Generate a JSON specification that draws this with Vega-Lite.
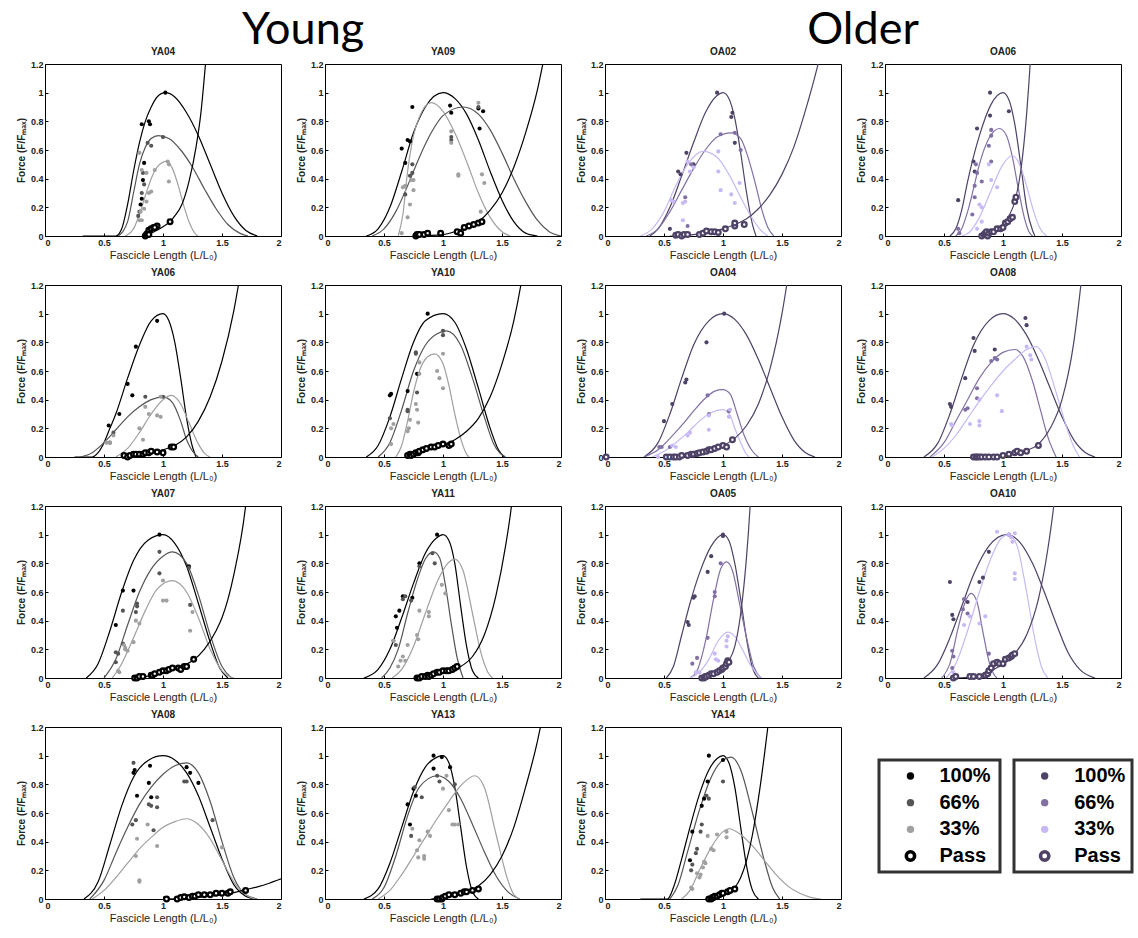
{
"$schema":"https://vega.github.io/schema/vega-lite/v6.json",
"padding":{"left":15,"top":8,"right":5,"bottom":5},
"background":"white",
"datasets":{
"c":[
{"p":"YA04","g":"Y1","x":0.32,"y":0},{"p":"YA04","g":"Y1","x":0.6,"y":0},{"p":"YA04","g":"Y1","x":0.65,"y":0.05},{"p":"YA04","g":"Y1","x":0.7,"y":0.22},{"p":"YA04","g":"Y1","x":0.75,"y":0.45},{"p":"YA04","g":"Y1","x":0.8,"y":0.65},{"p":"YA04","g":"Y1","x":0.85,"y":0.8},{"p":"YA04","g":"Y1","x":0.9,"y":0.9},{"p":"YA04","g":"Y1","x":0.95,"y":0.97},{"p":"YA04","g":"Y1","x":1.02,"y":1},{"p":"YA04","g":"Y1","x":1.1,"y":0.97},{"p":"YA04","g":"Y1","x":1.2,"y":0.86},{"p":"YA04","g":"Y1","x":1.3,"y":0.7},{"p":"YA04","g":"Y1","x":1.4,"y":0.5},{"p":"YA04","g":"Y1","x":1.5,"y":0.3},{"p":"YA04","g":"Y1","x":1.6,"y":0.14},{"p":"YA04","g":"Y1","x":1.7,"y":0.04},{"p":"YA04","g":"Y1","x":1.8,"y":0},
{"p":"YA04","g":"Y6","x":0.62,"y":0},{"p":"YA04","g":"Y6","x":0.7,"y":0.1},{"p":"YA04","g":"Y6","x":0.75,"y":0.3},{"p":"YA04","g":"Y6","x":0.8,"y":0.5},{"p":"YA04","g":"Y6","x":0.85,"y":0.62},{"p":"YA04","g":"Y6","x":0.9,"y":0.68},{"p":"YA04","g":"Y6","x":0.96,"y":0.7},{"p":"YA04","g":"Y6","x":1.05,"y":0.68},{"p":"YA04","g":"Y6","x":1.15,"y":0.6},{"p":"YA04","g":"Y6","x":1.25,"y":0.48},{"p":"YA04","g":"Y6","x":1.35,"y":0.33},{"p":"YA04","g":"Y6","x":1.45,"y":0.19},{"p":"YA04","g":"Y6","x":1.55,"y":0.08},{"p":"YA04","g":"Y6","x":1.65,"y":0.02},{"p":"YA04","g":"Y6","x":1.72,"y":0},
{"p":"YA04","g":"Y3","x":0.68,"y":0},{"p":"YA04","g":"Y3","x":0.75,"y":0.05},{"p":"YA04","g":"Y3","x":0.8,"y":0.15},{"p":"YA04","g":"Y3","x":0.85,"y":0.28},{"p":"YA04","g":"Y3","x":0.9,"y":0.4},{"p":"YA04","g":"Y3","x":0.95,"y":0.48},{"p":"YA04","g":"Y3","x":1.03,"y":0.52},{"p":"YA04","g":"Y3","x":1.08,"y":0.47},{"p":"YA04","g":"Y3","x":1.13,"y":0.35},{"p":"YA04","g":"Y3","x":1.18,"y":0.2},{"p":"YA04","g":"Y3","x":1.23,"y":0.08},{"p":"YA04","g":"Y3","x":1.28,"y":0.01},{"p":"YA04","g":"Y3","x":1.3,"y":0},
{"p":"YA04","g":"YP","x":0.85,"y":0},{"p":"YA04","g":"YP","x":0.9,"y":0.02},{"p":"YA04","g":"YP","x":0.95,"y":0.04},{"p":"YA04","g":"YP","x":1,"y":0.065},{"p":"YA04","g":"YP","x":1.06,"y":0.1},{"p":"YA04","g":"YP","x":1.1,"y":0.14},{"p":"YA04","g":"YP","x":1.16,"y":0.22},{"p":"YA04","g":"YP","x":1.22,"y":0.38},{"p":"YA04","g":"YP","x":1.28,"y":0.62},{"p":"YA04","g":"YP","x":1.32,"y":0.85},{"p":"YA04","g":"YP","x":1.36,"y":1.2},{"p":"YA04","g":"YP","x":1.38,"y":1.4},

{"p":"YA09","g":"Y1","x":0.35,"y":0},{"p":"YA09","g":"Y1","x":0.45,"y":0.05},{"p":"YA09","g":"Y1","x":0.55,"y":0.2},{"p":"YA09","g":"Y1","x":0.65,"y":0.45},{"p":"YA09","g":"Y1","x":0.75,"y":0.72},{"p":"YA09","g":"Y1","x":0.85,"y":0.9},{"p":"YA09","g":"Y1","x":1,"y":1},{"p":"YA09","g":"Y1","x":1.1,"y":0.96},{"p":"YA09","g":"Y1","x":1.2,"y":0.85},{"p":"YA09","g":"Y1","x":1.3,"y":0.67},{"p":"YA09","g":"Y1","x":1.4,"y":0.45},{"p":"YA09","g":"Y1","x":1.5,"y":0.25},{"p":"YA09","g":"Y1","x":1.6,"y":0.1},{"p":"YA09","g":"Y1","x":1.7,"y":0.02},{"p":"YA09","g":"Y1","x":1.8,"y":0},
{"p":"YA09","g":"Y6","x":0.4,"y":0},{"p":"YA09","g":"Y6","x":0.5,"y":0.05},{"p":"YA09","g":"Y6","x":0.6,"y":0.17},{"p":"YA09","g":"Y6","x":0.7,"y":0.35},{"p":"YA09","g":"Y6","x":0.8,"y":0.55},{"p":"YA09","g":"Y6","x":0.9,"y":0.72},{"p":"YA09","g":"Y6","x":1,"y":0.84},{"p":"YA09","g":"Y6","x":1.17,"y":0.9},{"p":"YA09","g":"Y6","x":1.3,"y":0.85},{"p":"YA09","g":"Y6","x":1.4,"y":0.74},{"p":"YA09","g":"Y6","x":1.5,"y":0.58},{"p":"YA09","g":"Y6","x":1.6,"y":0.4},{"p":"YA09","g":"Y6","x":1.7,"y":0.24},{"p":"YA09","g":"Y6","x":1.8,"y":0.11},{"p":"YA09","g":"Y6","x":1.9,"y":0.03},{"p":"YA09","g":"Y6","x":2,"y":0},
{"p":"YA09","g":"Y3","x":0.62,"y":0},{"p":"YA09","g":"Y3","x":0.66,"y":0.15},{"p":"YA09","g":"Y3","x":0.7,"y":0.45},{"p":"YA09","g":"Y3","x":0.75,"y":0.7},{"p":"YA09","g":"Y3","x":0.8,"y":0.83},{"p":"YA09","g":"Y3","x":0.9,"y":0.93},{"p":"YA09","g":"Y3","x":1,"y":0.87},{"p":"YA09","g":"Y3","x":1.1,"y":0.72},{"p":"YA09","g":"Y3","x":1.2,"y":0.52},{"p":"YA09","g":"Y3","x":1.3,"y":0.3},{"p":"YA09","g":"Y3","x":1.4,"y":0.13},{"p":"YA09","g":"Y3","x":1.5,"y":0.03},{"p":"YA09","g":"Y3","x":1.57,"y":0},
{"p":"YA09","g":"YP","x":0.75,"y":0},{"p":"YA09","g":"YP","x":1,"y":0.01},{"p":"YA09","g":"YP","x":1.1,"y":0.03},{"p":"YA09","g":"YP","x":1.2,"y":0.06},{"p":"YA09","g":"YP","x":1.3,"y":0.1},{"p":"YA09","g":"YP","x":1.4,"y":0.18},{"p":"YA09","g":"YP","x":1.5,"y":0.3},{"p":"YA09","g":"YP","x":1.6,"y":0.48},{"p":"YA09","g":"YP","x":1.7,"y":0.72},{"p":"YA09","g":"YP","x":1.8,"y":1.02},{"p":"YA09","g":"YP","x":1.87,"y":1.3},

{"p":"OA02","g":"O1","x":0.38,"y":0},{"p":"OA02","g":"O1","x":0.45,"y":0.05},{"p":"OA02","g":"O1","x":0.55,"y":0.2},{"p":"OA02","g":"O1","x":0.65,"y":0.42},{"p":"OA02","g":"O1","x":0.75,"y":0.65},{"p":"OA02","g":"O1","x":0.85,"y":0.86},{"p":"OA02","g":"O1","x":0.95,"y":0.98},{"p":"OA02","g":"O1","x":1,"y":1},{"p":"OA02","g":"O1","x":1.05,"y":0.96},{"p":"OA02","g":"O1","x":1.1,"y":0.82},{"p":"OA02","g":"O1","x":1.15,"y":0.58},{"p":"OA02","g":"O1","x":1.2,"y":0.3},{"p":"OA02","g":"O1","x":1.25,"y":0.08},{"p":"OA02","g":"O1","x":1.28,"y":0},
{"p":"OA02","g":"O6","x":0.35,"y":0},{"p":"OA02","g":"O6","x":0.45,"y":0.05},{"p":"OA02","g":"O6","x":0.55,"y":0.17},{"p":"OA02","g":"O6","x":0.65,"y":0.32},{"p":"OA02","g":"O6","x":0.75,"y":0.47},{"p":"OA02","g":"O6","x":0.85,"y":0.6},{"p":"OA02","g":"O6","x":0.95,"y":0.69},{"p":"OA02","g":"O6","x":1.07,"y":0.72},{"p":"OA02","g":"O6","x":1.15,"y":0.68},{"p":"OA02","g":"O6","x":1.2,"y":0.58},{"p":"OA02","g":"O6","x":1.27,"y":0.38},{"p":"OA02","g":"O6","x":1.33,"y":0.18},{"p":"OA02","g":"O6","x":1.38,"y":0.06},{"p":"OA02","g":"O6","x":1.43,"y":0},
{"p":"OA02","g":"O3","x":0.3,"y":0},{"p":"OA02","g":"O3","x":0.4,"y":0.05},{"p":"OA02","g":"O3","x":0.5,"y":0.17},{"p":"OA02","g":"O3","x":0.6,"y":0.35},{"p":"OA02","g":"O3","x":0.7,"y":0.5},{"p":"OA02","g":"O3","x":0.83,"y":0.59},{"p":"OA02","g":"O3","x":0.95,"y":0.55},{"p":"OA02","g":"O3","x":1.05,"y":0.43},{"p":"OA02","g":"O3","x":1.15,"y":0.27},{"p":"OA02","g":"O3","x":1.25,"y":0.12},{"p":"OA02","g":"O3","x":1.32,"y":0.04},{"p":"OA02","g":"O3","x":1.38,"y":0},
{"p":"OA02","g":"OP","x":0.55,"y":0},{"p":"OA02","g":"OP","x":0.7,"y":0.005},{"p":"OA02","g":"OP","x":0.8,"y":0.015},{"p":"OA02","g":"OP","x":0.9,"y":0.03},{"p":"OA02","g":"OP","x":1,"y":0.05},{"p":"OA02","g":"OP","x":1.1,"y":0.08},{"p":"OA02","g":"OP","x":1.2,"y":0.12},{"p":"OA02","g":"OP","x":1.3,"y":0.19},{"p":"OA02","g":"OP","x":1.4,"y":0.29},{"p":"OA02","g":"OP","x":1.5,"y":0.43},{"p":"OA02","g":"OP","x":1.6,"y":0.62},{"p":"OA02","g":"OP","x":1.7,"y":0.88},{"p":"OA02","g":"OP","x":1.8,"y":1.18},{"p":"OA02","g":"OP","x":1.85,"y":1.35},

{"p":"OA06","g":"O1","x":0.55,"y":0},{"p":"OA06","g":"O1","x":0.6,"y":0.05},{"p":"OA06","g":"O1","x":0.65,"y":0.18},{"p":"OA06","g":"O1","x":0.7,"y":0.38},{"p":"OA06","g":"O1","x":0.8,"y":0.7},{"p":"OA06","g":"O1","x":0.9,"y":0.92},{"p":"OA06","g":"O1","x":1,"y":1},{"p":"OA06","g":"O1","x":1.05,"y":0.95},{"p":"OA06","g":"O1","x":1.1,"y":0.78},{"p":"OA06","g":"O1","x":1.15,"y":0.5},{"p":"OA06","g":"O1","x":1.2,"y":0.2},{"p":"OA06","g":"O1","x":1.25,"y":0.04},{"p":"OA06","g":"O1","x":1.27,"y":0},
{"p":"OA06","g":"O6","x":0.6,"y":0},{"p":"OA06","g":"O6","x":0.65,"y":0.05},{"p":"OA06","g":"O6","x":0.7,"y":0.17},{"p":"OA06","g":"O6","x":0.75,"y":0.33},{"p":"OA06","g":"O6","x":0.8,"y":0.5},{"p":"OA06","g":"O6","x":0.88,"y":0.68},{"p":"OA06","g":"O6","x":0.97,"y":0.75},{"p":"OA06","g":"O6","x":1.03,"y":0.7},{"p":"OA06","g":"O6","x":1.08,"y":0.55},{"p":"OA06","g":"O6","x":1.13,"y":0.33},{"p":"OA06","g":"O6","x":1.18,"y":0.13},{"p":"OA06","g":"O6","x":1.22,"y":0.03},{"p":"OA06","g":"O6","x":1.25,"y":0},
{"p":"OA06","g":"O3","x":0.65,"y":0},{"p":"OA06","g":"O3","x":0.72,"y":0.03},{"p":"OA06","g":"O3","x":0.8,"y":0.13},{"p":"OA06","g":"O3","x":0.9,"y":0.32},{"p":"OA06","g":"O3","x":1,"y":0.5},{"p":"OA06","g":"O3","x":1.08,"y":0.56},{"p":"OA06","g":"O3","x":1.15,"y":0.48},{"p":"OA06","g":"O3","x":1.2,"y":0.35},{"p":"OA06","g":"O3","x":1.26,"y":0.17},{"p":"OA06","g":"O3","x":1.31,"y":0.06},{"p":"OA06","g":"O3","x":1.37,"y":0},
{"p":"OA06","g":"OP","x":0.8,"y":0},{"p":"OA06","g":"OP","x":0.9,"y":0.02},{"p":"OA06","g":"OP","x":0.95,"y":0.04},{"p":"OA06","g":"OP","x":1,"y":0.08},{"p":"OA06","g":"OP","x":1.05,"y":0.14},{"p":"OA06","g":"OP","x":1.1,"y":0.24},{"p":"OA06","g":"OP","x":1.15,"y":0.45},{"p":"OA06","g":"OP","x":1.2,"y":0.85},{"p":"OA06","g":"OP","x":1.23,"y":1.2},{"p":"OA06","g":"OP","x":1.25,"y":1.5},

{"p":"YA06","g":"Y1","x":0.25,"y":0},{"p":"YA06","g":"Y1","x":0.4,"y":0},{"p":"YA06","g":"Y1","x":0.45,"y":0.03},{"p":"YA06","g":"Y1","x":0.5,"y":0.1},{"p":"YA06","g":"Y1","x":0.55,"y":0.2},{"p":"YA06","g":"Y1","x":0.6,"y":0.3},{"p":"YA06","g":"Y1","x":0.7,"y":0.55},{"p":"YA06","g":"Y1","x":0.8,"y":0.78},{"p":"YA06","g":"Y1","x":0.9,"y":0.95},{"p":"YA06","g":"Y1","x":1,"y":1},{"p":"YA06","g":"Y1","x":1.05,"y":0.95},{"p":"YA06","g":"Y1","x":1.1,"y":0.8},{"p":"YA06","g":"Y1","x":1.15,"y":0.55},{"p":"YA06","g":"Y1","x":1.2,"y":0.27},{"p":"YA06","g":"Y1","x":1.25,"y":0.07},{"p":"YA06","g":"Y1","x":1.28,"y":0},
{"p":"YA06","g":"Y6","x":0.3,"y":0},{"p":"YA06","g":"Y6","x":0.4,"y":0.03},{"p":"YA06","g":"Y6","x":0.5,"y":0.1},{"p":"YA06","g":"Y6","x":0.6,"y":0.19},{"p":"YA06","g":"Y6","x":0.7,"y":0.28},{"p":"YA06","g":"Y6","x":0.8,"y":0.35},{"p":"YA06","g":"Y6","x":0.9,"y":0.4},{"p":"YA06","g":"Y6","x":1,"y":0.42},{"p":"YA06","g":"Y6","x":1.08,"y":0.38},{"p":"YA06","g":"Y6","x":1.15,"y":0.25},{"p":"YA06","g":"Y6","x":1.2,"y":0.12},{"p":"YA06","g":"Y6","x":1.25,"y":0.04},{"p":"YA06","g":"Y6","x":1.3,"y":0},
{"p":"YA06","g":"Y3","x":0.6,"y":0},{"p":"YA06","g":"Y3","x":0.7,"y":0.06},{"p":"YA06","g":"Y3","x":0.8,"y":0.17},{"p":"YA06","g":"Y3","x":0.9,"y":0.3},{"p":"YA06","g":"Y3","x":1,"y":0.4},{"p":"YA06","g":"Y3","x":1.07,"y":0.43},{"p":"YA06","g":"Y3","x":1.15,"y":0.37},{"p":"YA06","g":"Y3","x":1.22,"y":0.24},{"p":"YA06","g":"Y3","x":1.3,"y":0.09},{"p":"YA06","g":"Y3","x":1.36,"y":0.02},{"p":"YA06","g":"Y3","x":1.4,"y":0},
{"p":"YA06","g":"YP","x":0.65,"y":0},{"p":"YA06","g":"YP","x":0.8,"y":0.01},{"p":"YA06","g":"YP","x":0.9,"y":0.03},{"p":"YA06","g":"YP","x":1,"y":0.05},{"p":"YA06","g":"YP","x":1.1,"y":0.08},{"p":"YA06","g":"YP","x":1.2,"y":0.14},{"p":"YA06","g":"YP","x":1.3,"y":0.25},{"p":"YA06","g":"YP","x":1.4,"y":0.42},{"p":"YA06","g":"YP","x":1.5,"y":0.67},{"p":"YA06","g":"YP","x":1.6,"y":1.02},{"p":"YA06","g":"YP","x":1.66,"y":1.3},

{"p":"YA10","g":"Y1","x":0.35,"y":0},{"p":"YA10","g":"Y1","x":0.45,"y":0.08},{"p":"YA10","g":"Y1","x":0.55,"y":0.28},{"p":"YA10","g":"Y1","x":0.65,"y":0.55},{"p":"YA10","g":"Y1","x":0.75,"y":0.8},{"p":"YA10","g":"Y1","x":0.85,"y":0.95},{"p":"YA10","g":"Y1","x":1,"y":1},{"p":"YA10","g":"Y1","x":1.1,"y":0.94},{"p":"YA10","g":"Y1","x":1.2,"y":0.75},{"p":"YA10","g":"Y1","x":1.3,"y":0.48},{"p":"YA10","g":"Y1","x":1.4,"y":0.2},{"p":"YA10","g":"Y1","x":1.47,"y":0.05},{"p":"YA10","g":"Y1","x":1.52,"y":0},
{"p":"YA10","g":"Y6","x":0.45,"y":0},{"p":"YA10","g":"Y6","x":0.55,"y":0.1},{"p":"YA10","g":"Y6","x":0.65,"y":0.33},{"p":"YA10","g":"Y6","x":0.75,"y":0.6},{"p":"YA10","g":"Y6","x":0.85,"y":0.78},{"p":"YA10","g":"Y6","x":0.95,"y":0.86},{"p":"YA10","g":"Y6","x":1.03,"y":0.88},{"p":"YA10","g":"Y6","x":1.15,"y":0.78},{"p":"YA10","g":"Y6","x":1.25,"y":0.55},{"p":"YA10","g":"Y6","x":1.35,"y":0.28},{"p":"YA10","g":"Y6","x":1.43,"y":0.09},{"p":"YA10","g":"Y6","x":1.53,"y":0},
{"p":"YA10","g":"Y3","x":0.6,"y":0},{"p":"YA10","g":"Y3","x":0.65,"y":0.08},{"p":"YA10","g":"Y3","x":0.7,"y":0.25},{"p":"YA10","g":"Y3","x":0.75,"y":0.45},{"p":"YA10","g":"Y3","x":0.8,"y":0.6},{"p":"YA10","g":"Y3","x":0.87,"y":0.7},{"p":"YA10","g":"Y3","x":0.93,"y":0.72},{"p":"YA10","g":"Y3","x":1,"y":0.65},{"p":"YA10","g":"Y3","x":1.05,"y":0.5},{"p":"YA10","g":"Y3","x":1.1,"y":0.3},{"p":"YA10","g":"Y3","x":1.15,"y":0.13},{"p":"YA10","g":"Y3","x":1.2,"y":0.02},{"p":"YA10","g":"Y3","x":1.22,"y":0},
{"p":"YA10","g":"YP","x":0.7,"y":0},{"p":"YA10","g":"YP","x":0.8,"y":0.03},{"p":"YA10","g":"YP","x":0.9,"y":0.06},{"p":"YA10","g":"YP","x":1,"y":0.08},{"p":"YA10","g":"YP","x":1.1,"y":0.12},{"p":"YA10","g":"YP","x":1.2,"y":0.18},{"p":"YA10","g":"YP","x":1.3,"y":0.27},{"p":"YA10","g":"YP","x":1.4,"y":0.42},{"p":"YA10","g":"YP","x":1.5,"y":0.65},{"p":"YA10","g":"YP","x":1.6,"y":0.95},{"p":"YA10","g":"YP","x":1.66,"y":1.2},{"p":"YA10","g":"YP","x":1.69,"y":1.35},

{"p":"OA04","g":"O1","x":0.33,"y":0},{"p":"OA04","g":"O1","x":0.45,"y":0.1},{"p":"OA04","g":"O1","x":0.55,"y":0.3},{"p":"OA04","g":"O1","x":0.65,"y":0.55},{"p":"OA04","g":"O1","x":0.75,"y":0.78},{"p":"OA04","g":"O1","x":0.88,"y":0.95},{"p":"OA04","g":"O1","x":1,"y":1},{"p":"OA04","g":"O1","x":1.1,"y":0.96},{"p":"OA04","g":"O1","x":1.2,"y":0.85},{"p":"OA04","g":"O1","x":1.3,"y":0.68},{"p":"OA04","g":"O1","x":1.4,"y":0.48},{"p":"OA04","g":"O1","x":1.5,"y":0.28},{"p":"OA04","g":"O1","x":1.6,"y":0.12},{"p":"OA04","g":"O1","x":1.7,"y":0.03},{"p":"OA04","g":"O1","x":1.78,"y":0},
{"p":"OA04","g":"O6","x":0.33,"y":0},{"p":"OA04","g":"O6","x":0.45,"y":0.05},{"p":"OA04","g":"O6","x":0.55,"y":0.13},{"p":"OA04","g":"O6","x":0.65,"y":0.22},{"p":"OA04","g":"O6","x":0.75,"y":0.32},{"p":"OA04","g":"O6","x":0.85,"y":0.41},{"p":"OA04","g":"O6","x":0.93,"y":0.46},{"p":"OA04","g":"O6","x":1,"y":0.47},{"p":"OA04","g":"O6","x":1.06,"y":0.44},{"p":"OA04","g":"O6","x":1.12,"y":0.3},{"p":"OA04","g":"O6","x":1.18,"y":0.15},{"p":"OA04","g":"O6","x":1.25,"y":0.04},{"p":"OA04","g":"O6","x":1.3,"y":0},
{"p":"OA04","g":"O3","x":0.4,"y":0},{"p":"OA04","g":"O3","x":0.5,"y":0.04},{"p":"OA04","g":"O3","x":0.6,"y":0.1},{"p":"OA04","g":"O3","x":0.7,"y":0.17},{"p":"OA04","g":"O3","x":0.8,"y":0.25},{"p":"OA04","g":"O3","x":0.9,"y":0.31},{"p":"OA04","g":"O3","x":1,"y":0.33},{"p":"OA04","g":"O3","x":1.06,"y":0.29},{"p":"OA04","g":"O3","x":1.1,"y":0.2},{"p":"OA04","g":"O3","x":1.15,"y":0.1},{"p":"OA04","g":"O3","x":1.19,"y":0.03},{"p":"OA04","g":"O3","x":1.22,"y":0},
{"p":"OA04","g":"OP","x":0.5,"y":0},{"p":"OA04","g":"OP","x":0.6,"y":0.005},{"p":"OA04","g":"OP","x":0.7,"y":0.015},{"p":"OA04","g":"OP","x":0.8,"y":0.03},{"p":"OA04","g":"OP","x":0.9,"y":0.05},{"p":"OA04","g":"OP","x":1,"y":0.08},{"p":"OA04","g":"OP","x":1.1,"y":0.13},{"p":"OA04","g":"OP","x":1.2,"y":0.22},{"p":"OA04","g":"OP","x":1.3,"y":0.37},{"p":"OA04","g":"OP","x":1.4,"y":0.62},{"p":"OA04","g":"OP","x":1.5,"y":1},{"p":"OA04","g":"OP","x":1.55,"y":1.25},{"p":"OA04","g":"OP","x":1.57,"y":1.35},

{"p":"OA08","g":"O1","x":0.33,"y":0},{"p":"OA08","g":"O1","x":0.45,"y":0.1},{"p":"OA08","g":"O1","x":0.55,"y":0.3},{"p":"OA08","g":"O1","x":0.65,"y":0.55},{"p":"OA08","g":"O1","x":0.75,"y":0.78},{"p":"OA08","g":"O1","x":0.88,"y":0.95},{"p":"OA08","g":"O1","x":1,"y":1},{"p":"OA08","g":"O1","x":1.1,"y":0.96},{"p":"OA08","g":"O1","x":1.2,"y":0.85},{"p":"OA08","g":"O1","x":1.3,"y":0.68},{"p":"OA08","g":"O1","x":1.4,"y":0.48},{"p":"OA08","g":"O1","x":1.5,"y":0.28},{"p":"OA08","g":"O1","x":1.6,"y":0.12},{"p":"OA08","g":"O1","x":1.7,"y":0.03},{"p":"OA08","g":"O1","x":1.78,"y":0},
{"p":"OA08","g":"O6","x":0.38,"y":0},{"p":"OA08","g":"O6","x":0.5,"y":0.1},{"p":"OA08","g":"O6","x":0.6,"y":0.25},{"p":"OA08","g":"O6","x":0.7,"y":0.4},{"p":"OA08","g":"O6","x":0.8,"y":0.55},{"p":"OA08","g":"O6","x":0.9,"y":0.66},{"p":"OA08","g":"O6","x":1,"y":0.73},{"p":"OA08","g":"O6","x":1.1,"y":0.75},{"p":"OA08","g":"O6","x":1.17,"y":0.7},{"p":"OA08","g":"O6","x":1.25,"y":0.53},{"p":"OA08","g":"O6","x":1.32,"y":0.32},{"p":"OA08","g":"O6","x":1.38,"y":0.14},{"p":"OA08","g":"O6","x":1.45,"y":0},
{"p":"OA08","g":"O3","x":0.4,"y":0},{"p":"OA08","g":"O3","x":0.5,"y":0.06},{"p":"OA08","g":"O3","x":0.6,"y":0.15},{"p":"OA08","g":"O3","x":0.7,"y":0.27},{"p":"OA08","g":"O3","x":0.8,"y":0.39},{"p":"OA08","g":"O3","x":0.9,"y":0.5},{"p":"OA08","g":"O3","x":1,"y":0.6},{"p":"OA08","g":"O3","x":1.1,"y":0.68},{"p":"OA08","g":"O3","x":1.2,"y":0.75},{"p":"OA08","g":"O3","x":1.28,"y":0.77},{"p":"OA08","g":"O3","x":1.35,"y":0.7},{"p":"OA08","g":"O3","x":1.45,"y":0.45},{"p":"OA08","g":"O3","x":1.55,"y":0.18},{"p":"OA08","g":"O3","x":1.6,"y":0.07},{"p":"OA08","g":"O3","x":1.65,"y":0},
{"p":"OA08","g":"OP","x":0.75,"y":0},{"p":"OA08","g":"OP","x":0.9,"y":0.005},{"p":"OA08","g":"OP","x":1,"y":0.01},{"p":"OA08","g":"OP","x":1.1,"y":0.025},{"p":"OA08","g":"OP","x":1.2,"y":0.045},{"p":"OA08","g":"OP","x":1.3,"y":0.09},{"p":"OA08","g":"OP","x":1.4,"y":0.2},{"p":"OA08","g":"OP","x":1.5,"y":0.4},{"p":"OA08","g":"OP","x":1.6,"y":0.8},{"p":"OA08","g":"OP","x":1.66,"y":1.2},{"p":"OA08","g":"OP","x":1.68,"y":1.35},

{"p":"YA07","g":"Y1","x":0.35,"y":0},{"p":"YA07","g":"Y1","x":0.45,"y":0.1},{"p":"YA07","g":"Y1","x":0.55,"y":0.33},{"p":"YA07","g":"Y1","x":0.65,"y":0.6},{"p":"YA07","g":"Y1","x":0.75,"y":0.82},{"p":"YA07","g":"Y1","x":0.87,"y":0.96},{"p":"YA07","g":"Y1","x":1,"y":1},{"p":"YA07","g":"Y1","x":1.1,"y":0.94},{"p":"YA07","g":"Y1","x":1.2,"y":0.78},{"p":"YA07","g":"Y1","x":1.3,"y":0.52},{"p":"YA07","g":"Y1","x":1.4,"y":0.25},{"p":"YA07","g":"Y1","x":1.48,"y":0.07},{"p":"YA07","g":"Y1","x":1.55,"y":0},
{"p":"YA07","g":"Y6","x":0.5,"y":0},{"p":"YA07","g":"Y6","x":0.6,"y":0.13},{"p":"YA07","g":"Y6","x":0.7,"y":0.37},{"p":"YA07","g":"Y6","x":0.8,"y":0.6},{"p":"YA07","g":"Y6","x":0.9,"y":0.76},{"p":"YA07","g":"Y6","x":1,"y":0.85},{"p":"YA07","g":"Y6","x":1.08,"y":0.88},{"p":"YA07","g":"Y6","x":1.2,"y":0.8},{"p":"YA07","g":"Y6","x":1.3,"y":0.58},{"p":"YA07","g":"Y6","x":1.4,"y":0.3},{"p":"YA07","g":"Y6","x":1.5,"y":0.08},{"p":"YA07","g":"Y6","x":1.58,"y":0},
{"p":"YA07","g":"Y3","x":0.57,"y":0},{"p":"YA07","g":"Y3","x":0.65,"y":0.1},{"p":"YA07","g":"Y3","x":0.75,"y":0.28},{"p":"YA07","g":"Y3","x":0.85,"y":0.47},{"p":"YA07","g":"Y3","x":0.95,"y":0.62},{"p":"YA07","g":"Y3","x":1.08,"y":0.68},{"p":"YA07","g":"Y3","x":1.2,"y":0.6},{"p":"YA07","g":"Y3","x":1.3,"y":0.42},{"p":"YA07","g":"Y3","x":1.4,"y":0.2},{"p":"YA07","g":"Y3","x":1.5,"y":0.05},{"p":"YA07","g":"Y3","x":1.6,"y":0},
{"p":"YA07","g":"YP","x":0.75,"y":0},{"p":"YA07","g":"YP","x":0.85,"y":0.01},{"p":"YA07","g":"YP","x":0.95,"y":0.03},{"p":"YA07","g":"YP","x":1.05,"y":0.05},{"p":"YA07","g":"YP","x":1.15,"y":0.08},{"p":"YA07","g":"YP","x":1.25,"y":0.12},{"p":"YA07","g":"YP","x":1.35,"y":0.2},{"p":"YA07","g":"YP","x":1.45,"y":0.33},{"p":"YA07","g":"YP","x":1.5,"y":0.42},{"p":"YA07","g":"YP","x":1.6,"y":0.72},{"p":"YA07","g":"YP","x":1.7,"y":1.2},{"p":"YA07","g":"YP","x":1.72,"y":1.35},

{"p":"YA11","g":"Y1","x":0.33,"y":0},{"p":"YA11","g":"Y1","x":0.45,"y":0.06},{"p":"YA11","g":"Y1","x":0.55,"y":0.2},{"p":"YA11","g":"Y1","x":0.65,"y":0.42},{"p":"YA11","g":"Y1","x":0.75,"y":0.66},{"p":"YA11","g":"Y1","x":0.85,"y":0.87},{"p":"YA11","g":"Y1","x":0.95,"y":0.98},{"p":"YA11","g":"Y1","x":1,"y":1},{"p":"YA11","g":"Y1","x":1.05,"y":0.96},{"p":"YA11","g":"Y1","x":1.1,"y":0.8},{"p":"YA11","g":"Y1","x":1.15,"y":0.5},{"p":"YA11","g":"Y1","x":1.2,"y":0.22},{"p":"YA11","g":"Y1","x":1.25,"y":0.05},{"p":"YA11","g":"Y1","x":1.3,"y":0},
{"p":"YA11","g":"Y6","x":0.48,"y":0},{"p":"YA11","g":"Y6","x":0.55,"y":0.07},{"p":"YA11","g":"Y6","x":0.62,"y":0.2},{"p":"YA11","g":"Y6","x":0.7,"y":0.45},{"p":"YA11","g":"Y6","x":0.78,"y":0.68},{"p":"YA11","g":"Y6","x":0.85,"y":0.83},{"p":"YA11","g":"Y6","x":0.92,"y":0.88},{"p":"YA11","g":"Y6","x":0.97,"y":0.84},{"p":"YA11","g":"Y6","x":1.02,"y":0.65},{"p":"YA11","g":"Y6","x":1.07,"y":0.38},{"p":"YA11","g":"Y6","x":1.12,"y":0.14},{"p":"YA11","g":"Y6","x":1.17,"y":0},
{"p":"YA11","g":"Y3","x":0.57,"y":0},{"p":"YA11","g":"Y3","x":0.65,"y":0.06},{"p":"YA11","g":"Y3","x":0.75,"y":0.22},{"p":"YA11","g":"Y3","x":0.85,"y":0.45},{"p":"YA11","g":"Y3","x":0.95,"y":0.67},{"p":"YA11","g":"Y3","x":1.03,"y":0.79},{"p":"YA11","g":"Y3","x":1.1,"y":0.83},{"p":"YA11","g":"Y3","x":1.17,"y":0.75},{"p":"YA11","g":"Y3","x":1.25,"y":0.45},{"p":"YA11","g":"Y3","x":1.32,"y":0.18},{"p":"YA11","g":"Y3","x":1.38,"y":0.04},{"p":"YA11","g":"Y3","x":1.42,"y":0},
{"p":"YA11","g":"YP","x":0.75,"y":0},{"p":"YA11","g":"YP","x":0.85,"y":0.01},{"p":"YA11","g":"YP","x":0.95,"y":0.03},{"p":"YA11","g":"YP","x":1.05,"y":0.05},{"p":"YA11","g":"YP","x":1.15,"y":0.08},{"p":"YA11","g":"YP","x":1.25,"y":0.15},{"p":"YA11","g":"YP","x":1.35,"y":0.3},{"p":"YA11","g":"YP","x":1.45,"y":0.58},{"p":"YA11","g":"YP","x":1.53,"y":0.92},{"p":"YA11","g":"YP","x":1.58,"y":1.2},{"p":"YA11","g":"YP","x":1.6,"y":1.35},

{"p":"OA05","g":"O1","x":0.52,"y":0},{"p":"OA05","g":"O1","x":0.58,"y":0.08},{"p":"OA05","g":"O1","x":0.65,"y":0.3},{"p":"OA05","g":"O1","x":0.72,"y":0.52},{"p":"OA05","g":"O1","x":0.8,"y":0.73},{"p":"OA05","g":"O1","x":0.9,"y":0.92},{"p":"OA05","g":"O1","x":1,"y":1},{"p":"OA05","g":"O1","x":1.05,"y":0.96},{"p":"OA05","g":"O1","x":1.1,"y":0.8},{"p":"OA05","g":"O1","x":1.15,"y":0.55},{"p":"OA05","g":"O1","x":1.2,"y":0.27},{"p":"OA05","g":"O1","x":1.25,"y":0.07},{"p":"OA05","g":"O1","x":1.3,"y":0},
{"p":"OA05","g":"O6","x":0.72,"y":0},{"p":"OA05","g":"O6","x":0.78,"y":0.05},{"p":"OA05","g":"O6","x":0.85,"y":0.25},{"p":"OA05","g":"O6","x":0.92,"y":0.55},{"p":"OA05","g":"O6","x":0.98,"y":0.76},{"p":"OA05","g":"O6","x":1.03,"y":0.81},{"p":"OA05","g":"O6","x":1.08,"y":0.75},{"p":"OA05","g":"O6","x":1.14,"y":0.52},{"p":"OA05","g":"O6","x":1.2,"y":0.28},{"p":"OA05","g":"O6","x":1.26,"y":0.08},{"p":"OA05","g":"O6","x":1.32,"y":0},
{"p":"OA05","g":"O3","x":0.72,"y":0},{"p":"OA05","g":"O3","x":0.8,"y":0.04},{"p":"OA05","g":"O3","x":0.88,"y":0.13},{"p":"OA05","g":"O3","x":0.96,"y":0.26},{"p":"OA05","g":"O3","x":1.04,"y":0.32},{"p":"OA05","g":"O3","x":1.1,"y":0.29},{"p":"OA05","g":"O3","x":1.17,"y":0.19},{"p":"OA05","g":"O3","x":1.24,"y":0.08},{"p":"OA05","g":"O3","x":1.3,"y":0.02},{"p":"OA05","g":"O3","x":1.33,"y":0},
{"p":"OA05","g":"OP","x":0.8,"y":0},{"p":"OA05","g":"OP","x":0.9,"y":0.03},{"p":"OA05","g":"OP","x":1,"y":0.07},{"p":"OA05","g":"OP","x":1.05,"y":0.12},{"p":"OA05","g":"OP","x":1.1,"y":0.22},{"p":"OA05","g":"OP","x":1.15,"y":0.45},{"p":"OA05","g":"OP","x":1.2,"y":0.85},{"p":"OA05","g":"OP","x":1.23,"y":1.2},{"p":"OA05","g":"OP","x":1.25,"y":1.5},

{"p":"OA10","g":"O1","x":0.33,"y":0},{"p":"OA10","g":"O1","x":0.45,"y":0.1},{"p":"OA10","g":"O1","x":0.55,"y":0.28},{"p":"OA10","g":"O1","x":0.65,"y":0.5},{"p":"OA10","g":"O1","x":0.75,"y":0.72},{"p":"OA10","g":"O1","x":0.88,"y":0.92},{"p":"OA10","g":"O1","x":1.03,"y":1},{"p":"OA10","g":"O1","x":1.15,"y":0.94},{"p":"OA10","g":"O1","x":1.25,"y":0.8},{"p":"OA10","g":"O1","x":1.35,"y":0.6},{"p":"OA10","g":"O1","x":1.45,"y":0.38},{"p":"OA10","g":"O1","x":1.55,"y":0.18},{"p":"OA10","g":"O1","x":1.65,"y":0.06},{"p":"OA10","g":"O1","x":1.78,"y":0},
{"p":"OA10","g":"O6","x":0.48,"y":0},{"p":"OA10","g":"O6","x":0.55,"y":0.1},{"p":"OA10","g":"O6","x":0.62,"y":0.35},{"p":"OA10","g":"O6","x":0.68,"y":0.53},{"p":"OA10","g":"O6","x":0.73,"y":0.59},{"p":"OA10","g":"O6","x":0.78,"y":0.53},{"p":"OA10","g":"O6","x":0.83,"y":0.32},{"p":"OA10","g":"O6","x":0.88,"y":0.12},{"p":"OA10","g":"O6","x":0.92,"y":0.03},{"p":"OA10","g":"O6","x":0.95,"y":0},
{"p":"OA10","g":"O3","x":0.52,"y":0},{"p":"OA10","g":"O3","x":0.6,"y":0.1},{"p":"OA10","g":"O3","x":0.7,"y":0.33},{"p":"OA10","g":"O3","x":0.8,"y":0.6},{"p":"OA10","g":"O3","x":0.9,"y":0.84},{"p":"OA10","g":"O3","x":0.98,"y":0.97},{"p":"OA10","g":"O3","x":1.05,"y":1},{"p":"OA10","g":"O3","x":1.12,"y":0.92},{"p":"OA10","g":"O3","x":1.2,"y":0.6},{"p":"OA10","g":"O3","x":1.27,"y":0.27},{"p":"OA10","g":"O3","x":1.33,"y":0.07},{"p":"OA10","g":"O3","x":1.38,"y":0},
{"p":"OA10","g":"OP","x":0.55,"y":0},{"p":"OA10","g":"OP","x":0.7,"y":0.005},{"p":"OA10","g":"OP","x":0.8,"y":0.02},{"p":"OA10","g":"OP","x":0.9,"y":0.05},{"p":"OA10","g":"OP","x":1,"y":0.1},{"p":"OA10","g":"OP","x":1.1,"y":0.17},{"p":"OA10","g":"OP","x":1.2,"y":0.3},{"p":"OA10","g":"OP","x":1.3,"y":0.55},{"p":"OA10","g":"OP","x":1.38,"y":0.9},{"p":"OA10","g":"OP","x":1.43,"y":1.2},{"p":"OA10","g":"OP","x":1.45,"y":1.35},

{"p":"YA08","g":"Y1","x":0.33,"y":0},{"p":"YA08","g":"Y1","x":0.45,"y":0.12},{"p":"YA08","g":"Y1","x":0.55,"y":0.38},{"p":"YA08","g":"Y1","x":0.65,"y":0.65},{"p":"YA08","g":"Y1","x":0.75,"y":0.85},{"p":"YA08","g":"Y1","x":0.88,"y":0.97},{"p":"YA08","g":"Y1","x":1,"y":1},{"p":"YA08","g":"Y1","x":1.1,"y":0.97},{"p":"YA08","g":"Y1","x":1.2,"y":0.88},{"p":"YA08","g":"Y1","x":1.3,"y":0.72},{"p":"YA08","g":"Y1","x":1.4,"y":0.5},{"p":"YA08","g":"Y1","x":1.5,"y":0.28},{"p":"YA08","g":"Y1","x":1.6,"y":0.1},{"p":"YA08","g":"Y1","x":1.7,"y":0.02},{"p":"YA08","g":"Y1","x":1.78,"y":0},
{"p":"YA08","g":"Y6","x":0.38,"y":0},{"p":"YA08","g":"Y6","x":0.5,"y":0.13},{"p":"YA08","g":"Y6","x":0.6,"y":0.32},{"p":"YA08","g":"Y6","x":0.7,"y":0.5},{"p":"YA08","g":"Y6","x":0.8,"y":0.66},{"p":"YA08","g":"Y6","x":0.9,"y":0.78},{"p":"YA08","g":"Y6","x":1,"y":0.87},{"p":"YA08","g":"Y6","x":1.1,"y":0.93},{"p":"YA08","g":"Y6","x":1.2,"y":0.95},{"p":"YA08","g":"Y6","x":1.3,"y":0.88},{"p":"YA08","g":"Y6","x":1.4,"y":0.68},{"p":"YA08","g":"Y6","x":1.5,"y":0.4},{"p":"YA08","g":"Y6","x":1.6,"y":0.15},{"p":"YA08","g":"Y6","x":1.7,"y":0.03},{"p":"YA08","g":"Y6","x":1.8,"y":0},
{"p":"YA08","g":"Y3","x":0.4,"y":0},{"p":"YA08","g":"Y3","x":0.5,"y":0.06},{"p":"YA08","g":"Y3","x":0.6,"y":0.15},{"p":"YA08","g":"Y3","x":0.7,"y":0.25},{"p":"YA08","g":"Y3","x":0.8,"y":0.35},{"p":"YA08","g":"Y3","x":0.9,"y":0.43},{"p":"YA08","g":"Y3","x":1,"y":0.5},{"p":"YA08","g":"Y3","x":1.1,"y":0.54},{"p":"YA08","g":"Y3","x":1.2,"y":0.56},{"p":"YA08","g":"Y3","x":1.3,"y":0.52},{"p":"YA08","g":"Y3","x":1.4,"y":0.42},{"p":"YA08","g":"Y3","x":1.5,"y":0.27},{"p":"YA08","g":"Y3","x":1.6,"y":0.12},{"p":"YA08","g":"Y3","x":1.7,"y":0.03},{"p":"YA08","g":"Y3","x":1.78,"y":0},
{"p":"YA08","g":"YP","x":1,"y":0},{"p":"YA08","g":"YP","x":1.2,"y":0.005},{"p":"YA08","g":"YP","x":1.4,"y":0.02},{"p":"YA08","g":"YP","x":1.6,"y":0.045},{"p":"YA08","g":"YP","x":1.7,"y":0.065},{"p":"YA08","g":"YP","x":1.8,"y":0.085},{"p":"YA08","g":"YP","x":1.9,"y":0.11},{"p":"YA08","g":"YP","x":2,"y":0.14},

{"p":"YA13","g":"Y1","x":0.33,"y":0},{"p":"YA13","g":"Y1","x":0.45,"y":0.07},{"p":"YA13","g":"Y1","x":0.55,"y":0.25},{"p":"YA13","g":"Y1","x":0.65,"y":0.5},{"p":"YA13","g":"Y1","x":0.75,"y":0.75},{"p":"YA13","g":"Y1","x":0.85,"y":0.92},{"p":"YA13","g":"Y1","x":0.95,"y":0.99},{"p":"YA13","g":"Y1","x":1,"y":1},{"p":"YA13","g":"Y1","x":1.05,"y":0.95},{"p":"YA13","g":"Y1","x":1.1,"y":0.78},{"p":"YA13","g":"Y1","x":1.15,"y":0.5},{"p":"YA13","g":"Y1","x":1.2,"y":0.22},{"p":"YA13","g":"Y1","x":1.25,"y":0.05},{"p":"YA13","g":"Y1","x":1.3,"y":0},
{"p":"YA13","g":"Y6","x":0.4,"y":0},{"p":"YA13","g":"Y6","x":0.5,"y":0.08},{"p":"YA13","g":"Y6","x":0.6,"y":0.3},{"p":"YA13","g":"Y6","x":0.7,"y":0.58},{"p":"YA13","g":"Y6","x":0.8,"y":0.78},{"p":"YA13","g":"Y6","x":0.95,"y":0.86},{"p":"YA13","g":"Y6","x":1.05,"y":0.82},{"p":"YA13","g":"Y6","x":1.15,"y":0.7},{"p":"YA13","g":"Y6","x":1.25,"y":0.52},{"p":"YA13","g":"Y6","x":1.35,"y":0.33},{"p":"YA13","g":"Y6","x":1.45,"y":0.16},{"p":"YA13","g":"Y6","x":1.55,"y":0.05},{"p":"YA13","g":"Y6","x":1.65,"y":0},
{"p":"YA13","g":"Y3","x":0.45,"y":0},{"p":"YA13","g":"Y3","x":0.55,"y":0.06},{"p":"YA13","g":"Y3","x":0.65,"y":0.17},{"p":"YA13","g":"Y3","x":0.75,"y":0.3},{"p":"YA13","g":"Y3","x":0.85,"y":0.43},{"p":"YA13","g":"Y3","x":0.95,"y":0.56},{"p":"YA13","g":"Y3","x":1.05,"y":0.68},{"p":"YA13","g":"Y3","x":1.15,"y":0.79},{"p":"YA13","g":"Y3","x":1.27,"y":0.86},{"p":"YA13","g":"Y3","x":1.35,"y":0.78},{"p":"YA13","g":"Y3","x":1.45,"y":0.45},{"p":"YA13","g":"Y3","x":1.55,"y":0.13},{"p":"YA13","g":"Y3","x":1.6,"y":0.03},{"p":"YA13","g":"Y3","x":1.65,"y":0},
{"p":"YA13","g":"YP","x":0.9,"y":0},{"p":"YA13","g":"YP","x":1,"y":0.01},{"p":"YA13","g":"YP","x":1.1,"y":0.025},{"p":"YA13","g":"YP","x":1.2,"y":0.05},{"p":"YA13","g":"YP","x":1.3,"y":0.09},{"p":"YA13","g":"YP","x":1.4,"y":0.17},{"p":"YA13","g":"YP","x":1.5,"y":0.3},{"p":"YA13","g":"YP","x":1.6,"y":0.5},{"p":"YA13","g":"YP","x":1.7,"y":0.78},{"p":"YA13","g":"YP","x":1.8,"y":1.1},{"p":"YA13","g":"YP","x":1.85,"y":1.3},

{"p":"YA14","g":"Y1","x":0.3,"y":0},{"p":"YA14","g":"Y1","x":0.53,"y":0},{"p":"YA14","g":"Y1","x":0.58,"y":0.08},{"p":"YA14","g":"Y1","x":0.65,"y":0.28},{"p":"YA14","g":"Y1","x":0.72,"y":0.5},{"p":"YA14","g":"Y1","x":0.8,"y":0.73},{"p":"YA14","g":"Y1","x":0.88,"y":0.9},{"p":"YA14","g":"Y1","x":0.95,"y":0.98},{"p":"YA14","g":"Y1","x":1,"y":1},{"p":"YA14","g":"Y1","x":1.05,"y":0.95},{"p":"YA14","g":"Y1","x":1.1,"y":0.78},{"p":"YA14","g":"Y1","x":1.15,"y":0.5},{"p":"YA14","g":"Y1","x":1.2,"y":0.23},{"p":"YA14","g":"Y1","x":1.25,"y":0.06},{"p":"YA14","g":"Y1","x":1.3,"y":0},
{"p":"YA14","g":"Y6","x":0.55,"y":0},{"p":"YA14","g":"Y6","x":0.62,"y":0.1},{"p":"YA14","g":"Y6","x":0.7,"y":0.33},{"p":"YA14","g":"Y6","x":0.8,"y":0.62},{"p":"YA14","g":"Y6","x":0.9,"y":0.85},{"p":"YA14","g":"Y6","x":1,"y":0.97},{"p":"YA14","g":"Y6","x":1.07,"y":0.99},{"p":"YA14","g":"Y6","x":1.15,"y":0.9},{"p":"YA14","g":"Y6","x":1.25,"y":0.6},{"p":"YA14","g":"Y6","x":1.35,"y":0.27},{"p":"YA14","g":"Y6","x":1.42,"y":0.08},{"p":"YA14","g":"Y6","x":1.48,"y":0},
{"p":"YA14","g":"Y3","x":0.65,"y":0},{"p":"YA14","g":"Y3","x":0.72,"y":0.06},{"p":"YA14","g":"Y3","x":0.8,"y":0.2},{"p":"YA14","g":"Y3","x":0.9,"y":0.36},{"p":"YA14","g":"Y3","x":1,"y":0.47},{"p":"YA14","g":"Y3","x":1.05,"y":0.49},{"p":"YA14","g":"Y3","x":1.15,"y":0.45},{"p":"YA14","g":"Y3","x":1.25,"y":0.37},{"p":"YA14","g":"Y3","x":1.35,"y":0.27},{"p":"YA14","g":"Y3","x":1.45,"y":0.17},{"p":"YA14","g":"Y3","x":1.55,"y":0.09},{"p":"YA14","g":"Y3","x":1.65,"y":0.04},{"p":"YA14","g":"Y3","x":1.75,"y":0.01},{"p":"YA14","g":"Y3","x":1.83,"y":0},
{"p":"YA14","g":"YP","x":0.85,"y":0},{"p":"YA14","g":"YP","x":0.9,"y":0.01},{"p":"YA14","g":"YP","x":0.95,"y":0.02},{"p":"YA14","g":"YP","x":1,"y":0.035},{"p":"YA14","g":"YP","x":1.05,"y":0.05},{"p":"YA14","g":"YP","x":1.1,"y":0.08},{"p":"YA14","g":"YP","x":1.15,"y":0.15},{"p":"YA14","g":"YP","x":1.2,"y":0.27},{"p":"YA14","g":"YP","x":1.25,"y":0.45},{"p":"YA14","g":"YP","x":1.3,"y":0.7},{"p":"YA14","g":"YP","x":1.35,"y":1},{"p":"YA14","g":"YP","x":1.38,"y":1.2},{"p":"YA14","g":"YP","x":1.4,"y":1.35}
],
"s":[
{"p":"YA04","g":"Y1","x":0.82,"y":0.78},{"p":"YA04","g":"Y1","x":0.88,"y":0.8},{"p":"YA04","g":"Y1","x":0.89,"y":0.78},{"p":"YA04","g":"Y1","x":0.84,"y":0.51},{"p":"YA04","g":"Y1","x":0.83,"y":0.39},{"p":"YA04","g":"Y1","x":0.82,"y":0.26},{"p":"YA04","g":"Y1","x":0.81,"y":0.22},{"p":"YA04","g":"Y1","x":1.02,"y":1},
{"p":"YA04","g":"Y6","x":0.87,"y":0.65},{"p":"YA04","g":"Y6","x":0.9,"y":0.63},{"p":"YA04","g":"Y6","x":1,"y":0.69},{"p":"YA04","g":"Y6","x":0.83,"y":0.44},{"p":"YA04","g":"Y6","x":0.82,"y":0.3},{"p":"YA04","g":"Y6","x":0.8,"y":0.17},{"p":"YA04","g":"Y6","x":0.79,"y":0.14},{"p":"YA04","g":"Y6","x":0.84,"y":0.36},
{"p":"YA04","g":"Y3","x":0.8,"y":0.58},{"p":"YA04","g":"Y3","x":0.82,"y":0.46},{"p":"YA04","g":"Y3","x":0.86,"y":0.44},{"p":"YA04","g":"Y3","x":0.9,"y":0.31},{"p":"YA04","g":"Y3","x":0.88,"y":0.3},{"p":"YA04","g":"Y3","x":0.93,"y":0.46},{"p":"YA04","g":"Y3","x":1.05,"y":0.5},{"p":"YA04","g":"Y3","x":1.04,"y":0.52},{"p":"YA04","g":"Y3","x":1.05,"y":0.38},{"p":"YA04","g":"Y3","x":0.8,"y":0.11},{"p":"YA04","g":"Y3","x":0.82,"y":0.11},{"p":"YA04","g":"Y3","x":0.84,"y":0.19},{"p":"YA04","g":"Y3","x":0.81,"y":0.17},{"p":"YA04","g":"Y3","x":0.86,"y":0.24},

{"p":"YA09","g":"Y1","x":0.65,"y":0.61},{"p":"YA09","g":"Y1","x":0.68,"y":0.51},{"p":"YA09","g":"Y1","x":0.7,"y":0.67},{"p":"YA09","g":"Y1","x":0.72,"y":0.66},{"p":"YA09","g":"Y1","x":0.74,"y":0.9},{"p":"YA09","g":"Y1","x":1.06,"y":0.91},{"p":"YA09","g":"Y1","x":1.07,"y":0.86},{"p":"YA09","g":"Y1","x":1.3,"y":0.89},{"p":"YA09","g":"Y1","x":1.31,"y":0.75},{"p":"YA09","g":"Y1","x":1.34,"y":0.87},
{"p":"YA09","g":"Y6","x":0.68,"y":0.29},{"p":"YA09","g":"Y6","x":0.72,"y":0.42},{"p":"YA09","g":"Y6","x":0.74,"y":0.44},{"p":"YA09","g":"Y6","x":0.74,"y":0.5},{"p":"YA09","g":"Y6","x":1.07,"y":0.67},{"p":"YA09","g":"Y6","x":1.07,"y":0.69},{"p":"YA09","g":"Y6","x":1.3,"y":0.9},
{"p":"YA09","g":"Y3","x":0.65,"y":0.02},{"p":"YA09","g":"Y3","x":0.68,"y":0.35},{"p":"YA09","g":"Y3","x":0.66,"y":0.34},{"p":"YA09","g":"Y3","x":0.7,"y":0.13},{"p":"YA09","g":"Y3","x":0.72,"y":0.22},{"p":"YA09","g":"Y3","x":0.73,"y":0.39},{"p":"YA09","g":"Y3","x":0.75,"y":0.39},{"p":"YA09","g":"Y3","x":0.75,"y":0.32},{"p":"YA09","g":"Y3","x":1.07,"y":0.65},{"p":"YA09","g":"Y3","x":1.07,"y":0.73},{"p":"YA09","g":"Y3","x":1.13,"y":0.43},{"p":"YA09","g":"Y3","x":1.13,"y":0.42},{"p":"YA09","g":"Y3","x":1.3,"y":0.93},{"p":"YA09","g":"Y3","x":1.32,"y":0.17},{"p":"YA09","g":"Y3","x":1.33,"y":0.43},{"p":"YA09","g":"Y3","x":1.35,"y":0.37},

{"p":"OA02","g":"O1","x":0.55,"y":0.05},{"p":"OA02","g":"O1","x":0.62,"y":0.45},{"p":"OA02","g":"O1","x":0.64,"y":0.43},{"p":"OA02","g":"O1","x":0.69,"y":0.58},{"p":"OA02","g":"O1","x":0.75,"y":0.5},{"p":"OA02","g":"O1","x":0.95,"y":1},{"p":"OA02","g":"O1","x":1.07,"y":0.83},{"p":"OA02","g":"O1","x":1.08,"y":0.86},{"p":"OA02","g":"O1","x":1.1,"y":0.65},
{"p":"OA02","g":"O6","x":0.68,"y":0.27},{"p":"OA02","g":"O6","x":0.7,"y":0.07},{"p":"OA02","g":"O6","x":0.98,"y":0.71},{"p":"OA02","g":"O6","x":1.1,"y":0.72},{"p":"OA02","g":"O6","x":1.15,"y":0.6},{"p":"OA02","g":"O6","x":0.73,"y":0.5},
{"p":"OA02","g":"O3","x":0.56,"y":0.25},{"p":"OA02","g":"O3","x":0.58,"y":0.24},{"p":"OA02","g":"O3","x":0.66,"y":0.23},{"p":"OA02","g":"O3","x":0.68,"y":0.24},{"p":"OA02","g":"O3","x":0.66,"y":0.11},{"p":"OA02","g":"O3","x":0.72,"y":0.45},{"p":"OA02","g":"O3","x":0.75,"y":0.48},{"p":"OA02","g":"O3","x":0.7,"y":0.52},{"p":"OA02","g":"O3","x":0.96,"y":0.59},{"p":"OA02","g":"O3","x":0.96,"y":0.45},{"p":"OA02","g":"O3","x":0.98,"y":0.32},{"p":"OA02","g":"O3","x":1.07,"y":0.29},{"p":"OA02","g":"O3","x":1.1,"y":0.23},{"p":"OA02","g":"O3","x":1.14,"y":0.37},

{"p":"OA06","g":"O1","x":0.62,"y":0.25},{"p":"OA06","g":"O1","x":0.75,"y":0.52},{"p":"OA06","g":"O1","x":0.78,"y":0.75},{"p":"OA06","g":"O1","x":0.89,"y":1},{"p":"OA06","g":"O1","x":0.89,"y":0.84},{"p":"OA06","g":"O1","x":1.05,"y":0.87},{"p":"OA06","g":"O1","x":0.76,"y":0.45},
{"p":"OA06","g":"O6","x":0.62,"y":0.05},{"p":"OA06","g":"O6","x":0.63,"y":0.02},{"p":"OA06","g":"O6","x":0.74,"y":0.15},{"p":"OA06","g":"O6","x":0.76,"y":0.27},{"p":"OA06","g":"O6","x":0.76,"y":0.35},{"p":"OA06","g":"O6","x":0.77,"y":0.5},{"p":"OA06","g":"O6","x":0.78,"y":0.44},{"p":"OA06","g":"O6","x":0.82,"y":0.38},{"p":"OA06","g":"O6","x":0.88,"y":0.63},{"p":"OA06","g":"O6","x":0.9,"y":0.7},{"p":"OA06","g":"O6","x":0.9,"y":0.74},{"p":"OA06","g":"O6","x":0.9,"y":0.52},
{"p":"OA06","g":"O3","x":0.8,"y":0.22},{"p":"OA06","g":"O3","x":0.82,"y":0.2},{"p":"OA06","g":"O3","x":0.82,"y":0.1},{"p":"OA06","g":"O3","x":0.78,"y":0.05},{"p":"OA06","g":"O3","x":0.88,"y":0.5},{"p":"OA06","g":"O3","x":0.9,"y":0.39},{"p":"OA06","g":"O3","x":0.95,"y":0.34},

{"p":"YA06","g":"Y1","x":0.54,"y":0.22},{"p":"YA06","g":"Y1","x":0.63,"y":0.3},{"p":"YA06","g":"Y1","x":0.7,"y":0.51},{"p":"YA06","g":"Y1","x":0.74,"y":0.43},{"p":"YA06","g":"Y1","x":0.77,"y":0.77},{"p":"YA06","g":"Y1","x":0.95,"y":0.95},
{"p":"YA06","g":"Y6","x":0.55,"y":0.1},{"p":"YA06","g":"Y6","x":0.58,"y":0.17},{"p":"YA06","g":"Y6","x":0.85,"y":0.42},{"p":"YA06","g":"Y6","x":1,"y":0.42},
{"p":"YA06","g":"Y3","x":0.52,"y":0.1},{"p":"YA06","g":"Y3","x":0.55,"y":0.1},{"p":"YA06","g":"Y3","x":0.58,"y":0.15},{"p":"YA06","g":"Y3","x":0.8,"y":0.2},{"p":"YA06","g":"Y3","x":0.83,"y":0.12},{"p":"YA06","g":"Y3","x":0.88,"y":0.3},{"p":"YA06","g":"Y3","x":0.95,"y":0.29},{"p":"YA06","g":"Y3","x":0.98,"y":0.28},{"p":"YA06","g":"Y3","x":0.98,"y":0.42},{"p":"YA06","g":"Y3","x":0.85,"y":0.35},

{"p":"YA10","g":"Y1","x":0.55,"y":0.43},{"p":"YA10","g":"Y1","x":0.56,"y":0.44},{"p":"YA10","g":"Y1","x":0.7,"y":0.46},{"p":"YA10","g":"Y1","x":0.78,"y":0.58},{"p":"YA10","g":"Y1","x":0.87,"y":1},
{"p":"YA10","g":"Y6","x":0.55,"y":0.27},{"p":"YA10","g":"Y6","x":0.7,"y":0.33},{"p":"YA10","g":"Y6","x":0.7,"y":0.32},{"p":"YA10","g":"Y6","x":0.78,"y":0.45},{"p":"YA10","g":"Y6","x":0.77,"y":0.73},{"p":"YA10","g":"Y6","x":0.77,"y":0.72},{"p":"YA10","g":"Y6","x":1,"y":0.85},{"p":"YA10","g":"Y6","x":1,"y":0.88},
{"p":"YA10","g":"Y3","x":0.56,"y":0.2},{"p":"YA10","g":"Y3","x":0.56,"y":0.09},{"p":"YA10","g":"Y3","x":0.58,"y":0.23},{"p":"YA10","g":"Y3","x":0.7,"y":0.18},{"p":"YA10","g":"Y3","x":0.71,"y":0.2},{"p":"YA10","g":"Y3","x":0.72,"y":0.26},{"p":"YA10","g":"Y3","x":0.77,"y":0.37},{"p":"YA10","g":"Y3","x":0.78,"y":0.33},{"p":"YA10","g":"Y3","x":0.79,"y":0.24},{"p":"YA10","g":"Y3","x":0.8,"y":0.58},{"p":"YA10","g":"Y3","x":0.8,"y":0.66},{"p":"YA10","g":"Y3","x":0.95,"y":0.6},{"p":"YA10","g":"Y3","x":0.97,"y":0.55},{"p":"YA10","g":"Y3","x":1,"y":0.72},{"p":"YA10","g":"Y3","x":1,"y":0.48},

{"p":"OA04","g":"O1","x":0.5,"y":0.25},{"p":"OA04","g":"O1","x":0.57,"y":0.37},{"p":"OA04","g":"O1","x":0.68,"y":0.52},{"p":"OA04","g":"O1","x":0.69,"y":0.54},{"p":"OA04","g":"O1","x":0.86,"y":0.8},{"p":"OA04","g":"O1","x":1.01,"y":1},
{"p":"OA04","g":"O6","x":0.46,"y":0.07},{"p":"OA04","g":"O6","x":0.48,"y":0.07},{"p":"OA04","g":"O6","x":0.55,"y":0.07},{"p":"OA04","g":"O6","x":0.87,"y":0.43},{"p":"OA04","g":"O6","x":0.88,"y":0.3},{"p":"OA04","g":"O6","x":1.05,"y":0.32},
{"p":"OA04","g":"O3","x":0.45,"y":0},{"p":"OA04","g":"O3","x":0.57,"y":0.08},{"p":"OA04","g":"O3","x":0.6,"y":0.07},{"p":"OA04","g":"O3","x":0.7,"y":0.15},{"p":"OA04","g":"O3","x":0.72,"y":0.17},{"p":"OA04","g":"O3","x":0.88,"y":0.29},{"p":"OA04","g":"O3","x":0.88,"y":0.19},{"p":"OA04","g":"O3","x":1.05,"y":0.28},{"p":"OA04","g":"O3","x":1.06,"y":0.33},

{"p":"OA08","g":"O1","x":0.55,"y":0.37},{"p":"OA08","g":"O1","x":0.56,"y":0.35},{"p":"OA08","g":"O1","x":0.68,"y":0.55},{"p":"OA08","g":"O1","x":0.75,"y":0.83},{"p":"OA08","g":"O1","x":0.76,"y":0.74},{"p":"OA08","g":"O1","x":0.93,"y":0.75},{"p":"OA08","g":"O1","x":1.19,"y":0.97},{"p":"OA08","g":"O1","x":1.2,"y":0.92},
{"p":"OA08","g":"O6","x":0.68,"y":0.33},{"p":"OA08","g":"O6","x":0.7,"y":0.34},{"p":"OA08","g":"O6","x":0.78,"y":0.48},{"p":"OA08","g":"O6","x":0.78,"y":0.41},{"p":"OA08","g":"O6","x":0.9,"y":0.67},{"p":"OA08","g":"O6","x":0.93,"y":0.69},{"p":"OA08","g":"O6","x":0.95,"y":0.68},
{"p":"OA08","g":"O3","x":0.56,"y":0.23},{"p":"OA08","g":"O3","x":0.57,"y":0.22},{"p":"OA08","g":"O3","x":0.72,"y":0.23},{"p":"OA08","g":"O3","x":0.8,"y":0.25},{"p":"OA08","g":"O3","x":0.8,"y":0.22},{"p":"OA08","g":"O3","x":0.8,"y":0.4},{"p":"OA08","g":"O3","x":0.95,"y":0.43},{"p":"OA08","g":"O3","x":0.99,"y":0.32},{"p":"OA08","g":"O3","x":1.2,"y":0.77},{"p":"OA08","g":"O3","x":1.23,"y":0.71},{"p":"OA08","g":"O3","x":1.24,"y":0.68},

{"p":"YA07","g":"Y1","x":0.6,"y":0.37},{"p":"YA07","g":"Y1","x":0.66,"y":0.61},{"p":"YA07","g":"Y1","x":0.75,"y":0.61},{"p":"YA07","g":"Y1","x":0.97,"y":1},{"p":"YA07","g":"Y1","x":1.22,"y":0.78},
{"p":"YA07","g":"Y6","x":0.6,"y":0.18},{"p":"YA07","g":"Y6","x":0.62,"y":0.17},{"p":"YA07","g":"Y6","x":0.6,"y":0.11},{"p":"YA07","g":"Y6","x":0.66,"y":0.47},{"p":"YA07","g":"Y6","x":0.66,"y":0.24},{"p":"YA07","g":"Y6","x":0.77,"y":0.46},{"p":"YA07","g":"Y6","x":0.78,"y":0.52},{"p":"YA07","g":"Y6","x":0.78,"y":0.5},{"p":"YA07","g":"Y6","x":0.97,"y":0.88},{"p":"YA07","g":"Y6","x":0.97,"y":0.73},{"p":"YA07","g":"Y6","x":1.22,"y":0.77},{"p":"YA07","g":"Y6","x":1.23,"y":0.51},
{"p":"YA07","g":"Y3","x":0.62,"y":0.05},{"p":"YA07","g":"Y3","x":0.63,"y":0.04},{"p":"YA07","g":"Y3","x":0.67,"y":0.23},{"p":"YA07","g":"Y3","x":0.68,"y":0.2},{"p":"YA07","g":"Y3","x":0.7,"y":0.19},{"p":"YA07","g":"Y3","x":0.75,"y":0.25},{"p":"YA07","g":"Y3","x":0.77,"y":0.4},{"p":"YA07","g":"Y3","x":0.8,"y":0.38},{"p":"YA07","g":"Y3","x":1,"y":0.68},{"p":"YA07","g":"Y3","x":1,"y":0.54},{"p":"YA07","g":"Y3","x":1.03,"y":0.54},{"p":"YA07","g":"Y3","x":1.23,"y":0.33},{"p":"YA07","g":"Y3","x":1.25,"y":0.46},{"p":"YA07","g":"Y3","x":0.68,"y":0.21},

{"p":"YA11","g":"Y1","x":0.6,"y":0.43},{"p":"YA11","g":"Y1","x":0.61,"y":0.35},{"p":"YA11","g":"Y1","x":0.63,"y":0.47},{"p":"YA11","g":"Y1","x":0.66,"y":0.57},{"p":"YA11","g":"Y1","x":0.74,"y":0.56},{"p":"YA11","g":"Y1","x":0.8,"y":0.8},{"p":"YA11","g":"Y1","x":0.95,"y":1},
{"p":"YA11","g":"Y6","x":0.58,"y":0.26},{"p":"YA11","g":"Y6","x":0.6,"y":0.23},{"p":"YA11","g":"Y6","x":0.66,"y":0.55},{"p":"YA11","g":"Y6","x":0.68,"y":0.57},{"p":"YA11","g":"Y6","x":0.73,"y":0.54},{"p":"YA11","g":"Y6","x":0.8,"y":0.78},{"p":"YA11","g":"Y6","x":0.91,"y":0.87},{"p":"YA11","g":"Y6","x":0.93,"y":0.8},
{"p":"YA11","g":"Y3","x":0.58,"y":0.26},{"p":"YA11","g":"Y3","x":0.62,"y":0.08},{"p":"YA11","g":"Y3","x":0.64,"y":0.12},{"p":"YA11","g":"Y3","x":0.66,"y":0.15},{"p":"YA11","g":"Y3","x":0.68,"y":0.12},{"p":"YA11","g":"Y3","x":0.7,"y":0.23},{"p":"YA11","g":"Y3","x":0.78,"y":0.3},{"p":"YA11","g":"Y3","x":0.79,"y":0.27},{"p":"YA11","g":"Y3","x":0.8,"y":0.47},{"p":"YA11","g":"Y3","x":0.88,"y":0.46},{"p":"YA11","g":"Y3","x":0.88,"y":0.43},{"p":"YA11","g":"Y3","x":0.99,"y":0.65},{"p":"YA11","g":"Y3","x":1.02,"y":0.59},

{"p":"OA05","g":"O1","x":0.7,"y":0.39},{"p":"OA05","g":"O1","x":0.71,"y":0.37},{"p":"OA05","g":"O1","x":0.75,"y":0.56},{"p":"OA05","g":"O1","x":0.76,"y":0.57},{"p":"OA05","g":"O1","x":0.87,"y":0.74},{"p":"OA05","g":"O1","x":0.9,"y":0.85},{"p":"OA05","g":"O1","x":1,"y":1},{"p":"OA05","g":"O1","x":1,"y":0.99},
{"p":"OA05","g":"O6","x":0.74,"y":0.1},{"p":"OA05","g":"O6","x":0.78,"y":0.14},{"p":"OA05","g":"O6","x":0.87,"y":0.28},{"p":"OA05","g":"O6","x":0.93,"y":0.6},{"p":"OA05","g":"O6","x":0.93,"y":0.57},{"p":"OA05","g":"O6","x":0.98,"y":0.8},
{"p":"OA05","g":"O3","x":0.77,"y":0.04},{"p":"OA05","g":"O3","x":0.8,"y":0.04},{"p":"OA05","g":"O3","x":0.93,"y":0.17},{"p":"OA05","g":"O3","x":0.94,"y":0.13},{"p":"OA05","g":"O3","x":0.96,"y":0.12},{"p":"OA05","g":"O3","x":1.03,"y":0.26},{"p":"OA05","g":"O3","x":1.04,"y":0.29},{"p":"OA05","g":"O3","x":1.03,"y":0.22},

{"p":"OA10","g":"O1","x":0.55,"y":0.67},{"p":"OA10","g":"O1","x":0.57,"y":0.44},{"p":"OA10","g":"O1","x":0.58,"y":0.41},{"p":"OA10","g":"O1","x":0.7,"y":0.53},{"p":"OA10","g":"O1","x":0.8,"y":0.67},{"p":"OA10","g":"O1","x":0.83,"y":0.7},{"p":"OA10","g":"O1","x":0.88,"y":0.88},{"p":"OA10","g":"O1","x":1.05,"y":1},
{"p":"OA10","g":"O6","x":0.57,"y":0.19},{"p":"OA10","g":"O6","x":0.58,"y":0.15},{"p":"OA10","g":"O6","x":0.57,"y":0.07},{"p":"OA10","g":"O6","x":0.66,"y":0.48},{"p":"OA10","g":"O6","x":0.67,"y":0.55},{"p":"OA10","g":"O6","x":0.7,"y":0.45},{"p":"OA10","g":"O6","x":0.88,"y":0.17},
{"p":"OA10","g":"O3","x":0.58,"y":0.04},{"p":"OA10","g":"O3","x":0.6,"y":0.01},{"p":"OA10","g":"O3","x":0.67,"y":0.37},{"p":"OA10","g":"O3","x":0.72,"y":0.43},{"p":"OA10","g":"O3","x":0.8,"y":0.38},{"p":"OA10","g":"O3","x":0.85,"y":0.43},{"p":"OA10","g":"O3","x":0.95,"y":1.02},{"p":"OA10","g":"O3","x":1.05,"y":1},{"p":"OA10","g":"O3","x":1.07,"y":0.98},{"p":"OA10","g":"O3","x":1.1,"y":1.01},{"p":"OA10","g":"O3","x":1.1,"y":0.73},{"p":"OA10","g":"O3","x":1.1,"y":0.69},{"p":"OA10","g":"O3","x":1.08,"y":0.95},

{"p":"YA08","g":"Y1","x":0.75,"y":0.88},{"p":"YA08","g":"Y1","x":0.76,"y":0.9},{"p":"YA08","g":"Y1","x":0.78,"y":0.72},{"p":"YA08","g":"Y1","x":0.89,"y":0.93},{"p":"YA08","g":"Y1","x":0.88,"y":0.81},{"p":"YA08","g":"Y1","x":0.9,"y":0.71},{"p":"YA08","g":"Y1","x":1.2,"y":0.92},{"p":"YA08","g":"Y1","x":1.23,"y":0.88},{"p":"YA08","g":"Y1","x":1.3,"y":0.81},
{"p":"YA08","g":"Y6","x":0.75,"y":0.95},{"p":"YA08","g":"Y6","x":0.74,"y":0.52},{"p":"YA08","g":"Y6","x":0.77,"y":0.55},{"p":"YA08","g":"Y6","x":0.88,"y":0.66},{"p":"YA08","g":"Y6","x":0.9,"y":0.65},{"p":"YA08","g":"Y6","x":0.92,"y":0.48},{"p":"YA08","g":"Y6","x":0.95,"y":0.71},{"p":"YA08","g":"Y6","x":0.95,"y":0.64},{"p":"YA08","g":"Y6","x":1.18,"y":0.82},{"p":"YA08","g":"Y6","x":1.2,"y":0.82},{"p":"YA08","g":"Y6","x":1.42,"y":0.55},
{"p":"YA08","g":"Y3","x":0.77,"y":0.3},{"p":"YA08","g":"Y3","x":0.78,"y":0.42},{"p":"YA08","g":"Y3","x":0.8,"y":0.13},{"p":"YA08","g":"Y3","x":0.8,"y":0.12},{"p":"YA08","g":"Y3","x":0.87,"y":0.52},{"p":"YA08","g":"Y3","x":0.95,"y":0.37},{"p":"YA08","g":"Y3","x":1.5,"y":0.36},

{"p":"YA13","g":"Y1","x":0.7,"y":0.66},{"p":"YA13","g":"Y1","x":0.72,"y":0.52},{"p":"YA13","g":"Y1","x":0.75,"y":0.77},{"p":"YA13","g":"Y1","x":0.77,"y":0.72},{"p":"YA13","g":"Y1","x":0.92,"y":1},{"p":"YA13","g":"Y1","x":0.92,"y":0.91},{"p":"YA13","g":"Y1","x":0.99,"y":0.99},{"p":"YA13","g":"Y1","x":1.06,"y":0.92},
{"p":"YA13","g":"Y6","x":0.73,"y":0.44},{"p":"YA13","g":"Y6","x":0.76,"y":0.78},{"p":"YA13","g":"Y6","x":0.82,"y":0.71},{"p":"YA13","g":"Y6","x":0.95,"y":0.86},{"p":"YA13","g":"Y6","x":0.97,"y":0.82},{"p":"YA13","g":"Y6","x":1.1,"y":0.8},
{"p":"YA13","g":"Y3","x":0.74,"y":0.49},{"p":"YA13","g":"Y3","x":0.78,"y":0.34},{"p":"YA13","g":"Y3","x":0.79,"y":0.29},{"p":"YA13","g":"Y3","x":0.8,"y":0.41},{"p":"YA13","g":"Y3","x":0.84,"y":0.3},{"p":"YA13","g":"Y3","x":0.84,"y":0.28},{"p":"YA13","g":"Y3","x":0.87,"y":0.47},{"p":"YA13","g":"Y3","x":0.89,"y":0.44},{"p":"YA13","g":"Y3","x":1,"y":0.77},{"p":"YA13","g":"Y3","x":1.03,"y":0.86},{"p":"YA13","g":"Y3","x":1.05,"y":0.62},{"p":"YA13","g":"Y3","x":1.08,"y":0.52},{"p":"YA13","g":"Y3","x":1.1,"y":0.52},{"p":"YA13","g":"Y3","x":1.13,"y":0.52},

{"p":"YA14","g":"Y1","x":0.72,"y":0.27},{"p":"YA14","g":"Y1","x":0.74,"y":0.47},{"p":"YA14","g":"Y1","x":0.82,"y":0.65},{"p":"YA14","g":"Y1","x":0.84,"y":0.7},{"p":"YA14","g":"Y1","x":0.87,"y":0.82},{"p":"YA14","g":"Y1","x":0.88,"y":1},{"p":"YA14","g":"Y1","x":1,"y":0.97},
{"p":"YA14","g":"Y6","x":0.73,"y":0.2},{"p":"YA14","g":"Y6","x":0.74,"y":0.24},{"p":"YA14","g":"Y6","x":0.77,"y":0.32},{"p":"YA14","g":"Y6","x":0.78,"y":0.35},{"p":"YA14","g":"Y6","x":0.81,"y":0.47},{"p":"YA14","g":"Y6","x":0.82,"y":0.52},{"p":"YA14","g":"Y6","x":0.86,"y":0.72},{"p":"YA14","g":"Y6","x":0.88,"y":0.7},{"p":"YA14","g":"Y6","x":1,"y":0.82},
{"p":"YA14","g":"Y3","x":0.73,"y":0.08},{"p":"YA14","g":"Y3","x":0.74,"y":0.07},{"p":"YA14","g":"Y3","x":0.78,"y":0.18},{"p":"YA14","g":"Y3","x":0.8,"y":0.15},{"p":"YA14","g":"Y3","x":0.81,"y":0.17},{"p":"YA14","g":"Y3","x":0.83,"y":0.22},{"p":"YA14","g":"Y3","x":0.84,"y":0.26},{"p":"YA14","g":"Y3","x":0.85,"y":0.25},{"p":"YA14","g":"Y3","x":0.87,"y":0.44},{"p":"YA14","g":"Y3","x":0.9,"y":0.35},{"p":"YA14","g":"Y3","x":0.92,"y":0.34},{"p":"YA14","g":"Y3","x":0.95,"y":0.45},{"p":"YA14","g":"Y3","x":1.03,"y":0.43},{"p":"YA14","g":"Y3","x":1.03,"y":0.47}
],
"r":[
{"p":"YA04","g":"YP","x":0.85,"y":0},{"p":"YA04","g":"YP","x":0.86,"y":0.01},{"p":"YA04","g":"YP","x":0.87,"y":0.02},{"p":"YA04","g":"YP","x":0.88,"y":0.04},{"p":"YA04","g":"YP","x":0.9,"y":0.05},{"p":"YA04","g":"YP","x":0.92,"y":0.06},{"p":"YA04","g":"YP","x":0.95,"y":0.07},{"p":"YA04","g":"YP","x":0.93,"y":0.06},{"p":"YA04","g":"YP","x":1.06,"y":0.1},{"p":"YA04","g":"YP","x":0.88,"y":0.01},
{"p":"YA09","g":"YP","x":0.77,"y":0},{"p":"YA09","g":"YP","x":0.78,"y":0.01},{"p":"YA09","g":"YP","x":0.8,"y":0.01},{"p":"YA09","g":"YP","x":0.84,"y":0.01},{"p":"YA09","g":"YP","x":0.87,"y":0.02},{"p":"YA09","g":"YP","x":0.98,"y":0.02},{"p":"YA09","g":"YP","x":1.12,"y":0.03},{"p":"YA09","g":"YP","x":1.15,"y":0.02},{"p":"YA09","g":"YP","x":1.18,"y":0.06},{"p":"YA09","g":"YP","x":1.22,"y":0.07},{"p":"YA09","g":"YP","x":1.26,"y":0.08},{"p":"YA09","g":"YP","x":1.3,"y":0.09},{"p":"YA09","g":"YP","x":1.33,"y":0.1},
{"p":"OA02","g":"OP","x":0.6,"y":0.005},{"p":"OA02","g":"OP","x":0.62,"y":0.01},{"p":"OA02","g":"OP","x":0.65,"y":0},{"p":"OA02","g":"OP","x":0.67,"y":0.01},{"p":"OA02","g":"OP","x":0.7,"y":0.01},{"p":"OA02","g":"OP","x":0.8,"y":0.01},{"p":"OA02","g":"OP","x":0.83,"y":0.02},{"p":"OA02","g":"OP","x":0.86,"y":0.035},{"p":"OA02","g":"OP","x":0.9,"y":0.03},{"p":"OA02","g":"OP","x":0.93,"y":0.03},{"p":"OA02","g":"OP","x":0.96,"y":0.025},{"p":"OA02","g":"OP","x":1.02,"y":0.05},{"p":"OA02","g":"OP","x":1.1,"y":0.07},{"p":"OA02","g":"OP","x":1.1,"y":0.09},{"p":"OA02","g":"OP","x":1.18,"y":0.08},
{"p":"OA06","g":"OP","x":0.82,"y":0},{"p":"OA06","g":"OP","x":0.84,"y":0.01},{"p":"OA06","g":"OP","x":0.85,"y":0.02},{"p":"OA06","g":"OP","x":0.86,"y":0.03},{"p":"OA06","g":"OP","x":0.87,"y":0},{"p":"OA06","g":"OP","x":0.88,"y":0.02},{"p":"OA06","g":"OP","x":0.9,"y":0.03},{"p":"OA06","g":"OP","x":0.92,"y":0.03},{"p":"OA06","g":"OP","x":0.95,"y":0.05},{"p":"OA06","g":"OP","x":0.98,"y":0.05},{"p":"OA06","g":"OP","x":1,"y":0.06},{"p":"OA06","g":"OP","x":1.02,"y":0.09},{"p":"OA06","g":"OP","x":1.04,"y":0.1},{"p":"OA06","g":"OP","x":1.06,"y":0.12},{"p":"OA06","g":"OP","x":1.08,"y":0.13},{"p":"OA06","g":"OP","x":1.1,"y":0.24},{"p":"OA06","g":"OP","x":1.11,"y":0.27},
{"p":"YA06","g":"YP","x":0.67,"y":0.01},{"p":"YA06","g":"YP","x":0.7,"y":0},{"p":"YA06","g":"YP","x":0.72,"y":0.01},{"p":"YA06","g":"YP","x":0.75,"y":0.02},{"p":"YA06","g":"YP","x":0.77,"y":0.02},{"p":"YA06","g":"YP","x":0.8,"y":0.02},{"p":"YA06","g":"YP","x":0.83,"y":0.02},{"p":"YA06","g":"YP","x":0.85,"y":0.03},{"p":"YA06","g":"YP","x":0.88,"y":0.03},{"p":"YA06","g":"YP","x":0.9,"y":0.04},{"p":"YA06","g":"YP","x":0.95,"y":0.035},{"p":"YA06","g":"YP","x":1,"y":0.03},{"p":"YA06","g":"YP","x":1.07,"y":0.07},{"p":"YA06","g":"YP","x":1.09,"y":0.07},
{"p":"YA10","g":"YP","x":0.7,"y":0.01},{"p":"YA10","g":"YP","x":0.72,"y":0.02},{"p":"YA10","g":"YP","x":0.73,"y":0.01},{"p":"YA10","g":"YP","x":0.75,"y":0.02},{"p":"YA10","g":"YP","x":0.77,"y":0.03},{"p":"YA10","g":"YP","x":0.79,"y":0.03},{"p":"YA10","g":"YP","x":0.8,"y":0.04},{"p":"YA10","g":"YP","x":0.83,"y":0.05},{"p":"YA10","g":"YP","x":0.86,"y":0.06},{"p":"YA10","g":"YP","x":0.9,"y":0.07},{"p":"YA10","g":"YP","x":0.93,"y":0.07},{"p":"YA10","g":"YP","x":0.96,"y":0.08},{"p":"YA10","g":"YP","x":1,"y":0.09},{"p":"YA10","g":"YP","x":1.05,"y":0.08},{"p":"YA10","g":"YP","x":1.07,"y":0.09},
{"p":"OA04","g":"OP","x":0.01,"y":0},{"p":"OA04","g":"OP","x":0.52,"y":0},{"p":"OA04","g":"OP","x":0.55,"y":0},{"p":"OA04","g":"OP","x":0.58,"y":0},{"p":"OA04","g":"OP","x":0.6,"y":0},{"p":"OA04","g":"OP","x":0.63,"y":0},{"p":"OA04","g":"OP","x":0.65,"y":0.01},{"p":"OA04","g":"OP","x":0.7,"y":0.01},{"p":"OA04","g":"OP","x":0.73,"y":0.02},{"p":"OA04","g":"OP","x":0.75,"y":0.02},{"p":"OA04","g":"OP","x":0.78,"y":0.025},{"p":"OA04","g":"OP","x":0.8,"y":0.03},{"p":"OA04","g":"OP","x":0.83,"y":0.035},{"p":"OA04","g":"OP","x":0.86,"y":0.04},{"p":"OA04","g":"OP","x":0.88,"y":0.05},{"p":"OA04","g":"OP","x":0.9,"y":0.05},{"p":"OA04","g":"OP","x":0.93,"y":0.06},{"p":"OA04","g":"OP","x":0.96,"y":0.07},{"p":"OA04","g":"OP","x":1,"y":0.08},{"p":"OA04","g":"OP","x":1.03,"y":0.07},{"p":"OA04","g":"OP","x":1.08,"y":0.12},
{"p":"OA08","g":"OP","x":0.75,"y":0},{"p":"OA08","g":"OP","x":0.77,"y":0},{"p":"OA08","g":"OP","x":0.78,"y":0},{"p":"OA08","g":"OP","x":0.8,"y":0},{"p":"OA08","g":"OP","x":0.82,"y":0},{"p":"OA08","g":"OP","x":0.85,"y":0},{"p":"OA08","g":"OP","x":0.88,"y":0},{"p":"OA08","g":"OP","x":0.92,"y":0},{"p":"OA08","g":"OP","x":0.95,"y":0},{"p":"OA08","g":"OP","x":1,"y":0.01},{"p":"OA08","g":"OP","x":1.05,"y":0.02},{"p":"OA08","g":"OP","x":1.1,"y":0.03},{"p":"OA08","g":"OP","x":1.12,"y":0.04},{"p":"OA08","g":"OP","x":1.15,"y":0.03},{"p":"OA08","g":"OP","x":1.2,"y":0.04},{"p":"OA08","g":"OP","x":1.3,"y":0.08},
{"p":"YA07","g":"YP","x":0.76,"y":0},{"p":"YA07","g":"YP","x":0.78,"y":0},{"p":"YA07","g":"YP","x":0.8,"y":0.01},{"p":"YA07","g":"YP","x":0.83,"y":0.01},{"p":"YA07","g":"YP","x":0.9,"y":0.02},{"p":"YA07","g":"YP","x":0.91,"y":0.02},{"p":"YA07","g":"YP","x":0.93,"y":0.03},{"p":"YA07","g":"YP","x":0.97,"y":0.04},{"p":"YA07","g":"YP","x":1,"y":0.05},{"p":"YA07","g":"YP","x":1.03,"y":0.05},{"p":"YA07","g":"YP","x":1.05,"y":0.06},{"p":"YA07","g":"YP","x":1.08,"y":0.07},{"p":"YA07","g":"YP","x":1.13,"y":0.07},{"p":"YA07","g":"YP","x":1.15,"y":0.06},{"p":"YA07","g":"YP","x":1.18,"y":0.08},{"p":"YA07","g":"YP","x":1.2,"y":0.08},{"p":"YA07","g":"YP","x":1.26,"y":0.13},
{"p":"YA11","g":"YP","x":0.78,"y":0},{"p":"YA11","g":"YP","x":0.8,"y":0},{"p":"YA11","g":"YP","x":0.82,"y":0.01},{"p":"YA11","g":"YP","x":0.85,"y":0.01},{"p":"YA11","g":"YP","x":0.87,"y":0.02},{"p":"YA11","g":"YP","x":0.88,"y":0.01},{"p":"YA11","g":"YP","x":0.9,"y":0.02},{"p":"YA11","g":"YP","x":0.92,"y":0.03},{"p":"YA11","g":"YP","x":0.95,"y":0.04},{"p":"YA11","g":"YP","x":0.97,"y":0.04},{"p":"YA11","g":"YP","x":1,"y":0.05},{"p":"YA11","g":"YP","x":1.03,"y":0.05},{"p":"YA11","g":"YP","x":1.05,"y":0.05},{"p":"YA11","g":"YP","x":1.08,"y":0.06},{"p":"YA11","g":"YP","x":1.1,"y":0.07},{"p":"YA11","g":"YP","x":1.12,"y":0.08},
{"p":"OA05","g":"OP","x":0.82,"y":0},{"p":"OA05","g":"OP","x":0.84,"y":0},{"p":"OA05","g":"OP","x":0.85,"y":0.01},{"p":"OA05","g":"OP","x":0.86,"y":0.01},{"p":"OA05","g":"OP","x":0.88,"y":0.02},{"p":"OA05","g":"OP","x":0.9,"y":0.03},{"p":"OA05","g":"OP","x":0.92,"y":0.03},{"p":"OA05","g":"OP","x":0.95,"y":0.04},{"p":"OA05","g":"OP","x":0.97,"y":0.05},{"p":"OA05","g":"OP","x":0.99,"y":0.06},{"p":"OA05","g":"OP","x":1,"y":0.07},{"p":"OA05","g":"OP","x":1.02,"y":0.08},{"p":"OA05","g":"OP","x":1.03,"y":0.1},{"p":"OA05","g":"OP","x":1.04,"y":0.12},{"p":"OA05","g":"OP","x":1.05,"y":0.11},
{"p":"OA10","g":"OP","x":0.58,"y":0},{"p":"OA10","g":"OP","x":0.6,"y":0.01},{"p":"OA10","g":"OP","x":0.72,"y":0.01},{"p":"OA10","g":"OP","x":0.75,"y":0.01},{"p":"OA10","g":"OP","x":0.8,"y":0.01},{"p":"OA10","g":"OP","x":0.85,"y":0.02},{"p":"OA10","g":"OP","x":0.87,"y":0.03},{"p":"OA10","g":"OP","x":0.88,"y":0.05},{"p":"OA10","g":"OP","x":0.9,"y":0.07},{"p":"OA10","g":"OP","x":0.92,"y":0.1},{"p":"OA10","g":"OP","x":0.95,"y":0.11},{"p":"OA10","g":"OP","x":0.97,"y":0.1},{"p":"OA10","g":"OP","x":1,"y":0.1},{"p":"OA10","g":"OP","x":1.02,"y":0.13},{"p":"OA10","g":"OP","x":1.05,"y":0.14},{"p":"OA10","g":"OP","x":1.07,"y":0.15},{"p":"OA10","g":"OP","x":1.08,"y":0.16},{"p":"OA10","g":"OP","x":1.1,"y":0.17},
{"p":"YA08","g":"YP","x":1.03,"y":0},{"p":"YA08","g":"YP","x":1.12,"y":0},{"p":"YA08","g":"YP","x":1.15,"y":0.01},{"p":"YA08","g":"YP","x":1.18,"y":0.015},{"p":"YA08","g":"YP","x":1.22,"y":0.01},{"p":"YA08","g":"YP","x":1.25,"y":0.02},{"p":"YA08","g":"YP","x":1.27,"y":0.02},{"p":"YA08","g":"YP","x":1.3,"y":0.03},{"p":"YA08","g":"YP","x":1.35,"y":0.03},{"p":"YA08","g":"YP","x":1.4,"y":0.03},{"p":"YA08","g":"YP","x":1.45,"y":0.04},{"p":"YA08","g":"YP","x":1.5,"y":0.04},{"p":"YA08","g":"YP","x":1.55,"y":0.04},{"p":"YA08","g":"YP","x":1.57,"y":0.05},{"p":"YA08","g":"YP","x":1.7,"y":0.06},
{"p":"YA13","g":"YP","x":0.95,"y":0},{"p":"YA13","g":"YP","x":0.97,"y":0},{"p":"YA13","g":"YP","x":0.99,"y":0},{"p":"YA13","g":"YP","x":1,"y":0.01},{"p":"YA13","g":"YP","x":1.02,"y":0.02},{"p":"YA13","g":"YP","x":1.05,"y":0.03},{"p":"YA13","g":"YP","x":1.1,"y":0.03},{"p":"YA13","g":"YP","x":1.15,"y":0.04},{"p":"YA13","g":"YP","x":1.18,"y":0.05},{"p":"YA13","g":"YP","x":1.2,"y":0.05},{"p":"YA13","g":"YP","x":1.25,"y":0.06},{"p":"YA13","g":"YP","x":1.3,"y":0.07},
{"p":"YA14","g":"YP","x":0.88,"y":0},{"p":"YA14","g":"YP","x":0.9,"y":0},{"p":"YA14","g":"YP","x":0.91,"y":0.01},{"p":"YA14","g":"YP","x":0.92,"y":0.01},{"p":"YA14","g":"YP","x":0.93,"y":0.02},{"p":"YA14","g":"YP","x":0.95,"y":0.02},{"p":"YA14","g":"YP","x":0.97,"y":0.03},{"p":"YA14","g":"YP","x":0.99,"y":0.04},{"p":"YA14","g":"YP","x":1,"y":0.04},{"p":"YA14","g":"YP","x":1.04,"y":0.05},{"p":"YA14","g":"YP","x":1.06,"y":0.06},{"p":"YA14","g":"YP","x":1.1,"y":0.07}
],
"ly":[{"g":"Y1","lab":"100%"},{"g":"Y6","lab":"66%"},{"g":"Y3","lab":"33%"},{"g":"YP","lab":"Pass"}],
"lo":[{"g":"O1","lab":"100%"},{"g":"O6","lab":"66%"},{"g":"O3","lab":"33%"},{"g":"OP","lab":"Pass"}]
},
"vconcat":[
{"hconcat":[
{"width":516,"height":40,"view":{"stroke":null},"data":{"values":[{"t":"Young"}]},"mark":{"type":"text","font":"Lato","fontSize":45,"color":"#000"},"encoding":{"text":{"field":"t"}}},
{"width":516,"height":40,"view":{"stroke":null},"data":{"values":[{"t":"Older"}]},"mark":{"type":"text","font":"Lato","fontSize":45,"color":"#000"},"encoding":{"text":{"field":"t"}}}
],"spacing":44,"bounds":"flush"},
{"vconcat":[
{"hconcat":[
{"title":"YA04","encoding":{"x":{"field":"x","type":"quantitative","scale":{"domain":[0,2],"nice":false},"axis":{"values":[0,0.5,1,1.5,2],"format":"~g"},"title":"Fascicle Length (L/L₀)"},"y":{"field":"y","type":"quantitative","scale":{"domain":[0,1.2],"nice":false},"axis":{"values":[0,0.2,0.4,0.6,0.8,1,1.2],"format":"~g"},"title":"Force (F/Fₘₐₓ)"},"color":{"field":"g","type":"nominal","scale":{"domain":["Y1","Y6","Y3","YP","O1","O6","O3","OP"],"range":["#000000","#555555","#a0a0a0","#000000","#4e4266","#8270a5","#c8b9f5","#4e4266"]},"legend":null}},"layer":[{"data":{"name":"c"},"transform":[{"filter":"datum.p=='YA04'"}],"mark":{"type":"line","clip":true,"interpolate":"monotone","strokeWidth":1.2}},{"data":{"name":"s"},"transform":[{"filter":"datum.p=='YA04'"}],"mark":{"type":"circle","size":17,"opacity":1}},{"data":{"name":"r"},"transform":[{"filter":"datum.p=='YA04'"}],"mark":{"type":"point","filled":false,"fill":"white","size":22,"strokeWidth":2.3,"opacity":1}}]},
{"title":"YA09","encoding":{"x":{"field":"x","type":"quantitative","scale":{"domain":[0,2],"nice":false},"axis":{"values":[0,0.5,1,1.5,2],"format":"~g"},"title":"Fascicle Length (L/L₀)"},"y":{"field":"y","type":"quantitative","scale":{"domain":[0,1.2],"nice":false},"axis":{"values":[0,0.2,0.4,0.6,0.8,1,1.2],"format":"~g"},"title":"Force (F/Fₘₐₓ)"},"color":{"field":"g","type":"nominal","scale":{"domain":["Y1","Y6","Y3","YP","O1","O6","O3","OP"],"range":["#000000","#555555","#a0a0a0","#000000","#4e4266","#8270a5","#c8b9f5","#4e4266"]},"legend":null}},"layer":[{"data":{"name":"c"},"transform":[{"filter":"datum.p=='YA09'"}],"mark":{"type":"line","clip":true,"interpolate":"monotone","strokeWidth":1.2}},{"data":{"name":"s"},"transform":[{"filter":"datum.p=='YA09'"}],"mark":{"type":"circle","size":17,"opacity":1}},{"data":{"name":"r"},"transform":[{"filter":"datum.p=='YA09'"}],"mark":{"type":"point","filled":false,"fill":"white","size":22,"strokeWidth":2.3,"opacity":1}}]},
{"title":"OA02","encoding":{"x":{"field":"x","type":"quantitative","scale":{"domain":[0,2],"nice":false},"axis":{"values":[0,0.5,1,1.5,2],"format":"~g"},"title":"Fascicle Length (L/L₀)"},"y":{"field":"y","type":"quantitative","scale":{"domain":[0,1.2],"nice":false},"axis":{"values":[0,0.2,0.4,0.6,0.8,1,1.2],"format":"~g"},"title":"Force (F/Fₘₐₓ)"},"color":{"field":"g","type":"nominal","scale":{"domain":["Y1","Y6","Y3","YP","O1","O6","O3","OP"],"range":["#000000","#555555","#a0a0a0","#000000","#4e4266","#8270a5","#c8b9f5","#4e4266"]},"legend":null}},"layer":[{"data":{"name":"c"},"transform":[{"filter":"datum.p=='OA02'"}],"mark":{"type":"line","clip":true,"interpolate":"monotone","strokeWidth":1.2}},{"data":{"name":"s"},"transform":[{"filter":"datum.p=='OA02'"}],"mark":{"type":"circle","size":17,"opacity":1}},{"data":{"name":"r"},"transform":[{"filter":"datum.p=='OA02'"}],"mark":{"type":"point","filled":false,"fill":"white","size":22,"strokeWidth":2.3,"opacity":1}}]},
{"title":"OA06","encoding":{"x":{"field":"x","type":"quantitative","scale":{"domain":[0,2],"nice":false},"axis":{"values":[0,0.5,1,1.5,2],"format":"~g"},"title":"Fascicle Length (L/L₀)"},"y":{"field":"y","type":"quantitative","scale":{"domain":[0,1.2],"nice":false},"axis":{"values":[0,0.2,0.4,0.6,0.8,1,1.2],"format":"~g"},"title":"Force (F/Fₘₐₓ)"},"color":{"field":"g","type":"nominal","scale":{"domain":["Y1","Y6","Y3","YP","O1","O6","O3","OP"],"range":["#000000","#555555","#a0a0a0","#000000","#4e4266","#8270a5","#c8b9f5","#4e4266"]},"legend":null}},"layer":[{"data":{"name":"c"},"transform":[{"filter":"datum.p=='OA06'"}],"mark":{"type":"line","clip":true,"interpolate":"monotone","strokeWidth":1.2}},{"data":{"name":"s"},"transform":[{"filter":"datum.p=='OA06'"}],"mark":{"type":"circle","size":17,"opacity":1}},{"data":{"name":"r"},"transform":[{"filter":"datum.p=='OA06'"}],"mark":{"type":"point","filled":false,"fill":"white","size":22,"strokeWidth":2.3,"opacity":1}}]}
],"spacing":44,"bounds":"flush"},
{"hconcat":[
{"title":"YA06","encoding":{"x":{"field":"x","type":"quantitative","scale":{"domain":[0,2],"nice":false},"axis":{"values":[0,0.5,1,1.5,2],"format":"~g"},"title":"Fascicle Length (L/L₀)"},"y":{"field":"y","type":"quantitative","scale":{"domain":[0,1.2],"nice":false},"axis":{"values":[0,0.2,0.4,0.6,0.8,1,1.2],"format":"~g"},"title":"Force (F/Fₘₐₓ)"},"color":{"field":"g","type":"nominal","scale":{"domain":["Y1","Y6","Y3","YP","O1","O6","O3","OP"],"range":["#000000","#555555","#a0a0a0","#000000","#4e4266","#8270a5","#c8b9f5","#4e4266"]},"legend":null}},"layer":[{"data":{"name":"c"},"transform":[{"filter":"datum.p=='YA06'"}],"mark":{"type":"line","clip":true,"interpolate":"monotone","strokeWidth":1.2}},{"data":{"name":"s"},"transform":[{"filter":"datum.p=='YA06'"}],"mark":{"type":"circle","size":17,"opacity":1}},{"data":{"name":"r"},"transform":[{"filter":"datum.p=='YA06'"}],"mark":{"type":"point","filled":false,"fill":"white","size":22,"strokeWidth":2.3,"opacity":1}}]},
{"title":"YA10","encoding":{"x":{"field":"x","type":"quantitative","scale":{"domain":[0,2],"nice":false},"axis":{"values":[0,0.5,1,1.5,2],"format":"~g"},"title":"Fascicle Length (L/L₀)"},"y":{"field":"y","type":"quantitative","scale":{"domain":[0,1.2],"nice":false},"axis":{"values":[0,0.2,0.4,0.6,0.8,1,1.2],"format":"~g"},"title":"Force (F/Fₘₐₓ)"},"color":{"field":"g","type":"nominal","scale":{"domain":["Y1","Y6","Y3","YP","O1","O6","O3","OP"],"range":["#000000","#555555","#a0a0a0","#000000","#4e4266","#8270a5","#c8b9f5","#4e4266"]},"legend":null}},"layer":[{"data":{"name":"c"},"transform":[{"filter":"datum.p=='YA10'"}],"mark":{"type":"line","clip":true,"interpolate":"monotone","strokeWidth":1.2}},{"data":{"name":"s"},"transform":[{"filter":"datum.p=='YA10'"}],"mark":{"type":"circle","size":17,"opacity":1}},{"data":{"name":"r"},"transform":[{"filter":"datum.p=='YA10'"}],"mark":{"type":"point","filled":false,"fill":"white","size":22,"strokeWidth":2.3,"opacity":1}}]},
{"title":"OA04","encoding":{"x":{"field":"x","type":"quantitative","scale":{"domain":[0,2],"nice":false},"axis":{"values":[0,0.5,1,1.5,2],"format":"~g"},"title":"Fascicle Length (L/L₀)"},"y":{"field":"y","type":"quantitative","scale":{"domain":[0,1.2],"nice":false},"axis":{"values":[0,0.2,0.4,0.6,0.8,1,1.2],"format":"~g"},"title":"Force (F/Fₘₐₓ)"},"color":{"field":"g","type":"nominal","scale":{"domain":["Y1","Y6","Y3","YP","O1","O6","O3","OP"],"range":["#000000","#555555","#a0a0a0","#000000","#4e4266","#8270a5","#c8b9f5","#4e4266"]},"legend":null}},"layer":[{"data":{"name":"c"},"transform":[{"filter":"datum.p=='OA04'"}],"mark":{"type":"line","clip":true,"interpolate":"monotone","strokeWidth":1.2}},{"data":{"name":"s"},"transform":[{"filter":"datum.p=='OA04'"}],"mark":{"type":"circle","size":17,"opacity":1}},{"data":{"name":"r"},"transform":[{"filter":"datum.p=='OA04'"}],"mark":{"type":"point","filled":false,"fill":"white","size":22,"strokeWidth":2.3,"opacity":1}}]},
{"title":"OA08","encoding":{"x":{"field":"x","type":"quantitative","scale":{"domain":[0,2],"nice":false},"axis":{"values":[0,0.5,1,1.5,2],"format":"~g"},"title":"Fascicle Length (L/L₀)"},"y":{"field":"y","type":"quantitative","scale":{"domain":[0,1.2],"nice":false},"axis":{"values":[0,0.2,0.4,0.6,0.8,1,1.2],"format":"~g"},"title":"Force (F/Fₘₐₓ)"},"color":{"field":"g","type":"nominal","scale":{"domain":["Y1","Y6","Y3","YP","O1","O6","O3","OP"],"range":["#000000","#555555","#a0a0a0","#000000","#4e4266","#8270a5","#c8b9f5","#4e4266"]},"legend":null}},"layer":[{"data":{"name":"c"},"transform":[{"filter":"datum.p=='OA08'"}],"mark":{"type":"line","clip":true,"interpolate":"monotone","strokeWidth":1.2}},{"data":{"name":"s"},"transform":[{"filter":"datum.p=='OA08'"}],"mark":{"type":"circle","size":17,"opacity":1}},{"data":{"name":"r"},"transform":[{"filter":"datum.p=='OA08'"}],"mark":{"type":"point","filled":false,"fill":"white","size":22,"strokeWidth":2.3,"opacity":1}}]}
],"spacing":44,"bounds":"flush"},
{"hconcat":[
{"title":"YA07","encoding":{"x":{"field":"x","type":"quantitative","scale":{"domain":[0,2],"nice":false},"axis":{"values":[0,0.5,1,1.5,2],"format":"~g"},"title":"Fascicle Length (L/L₀)"},"y":{"field":"y","type":"quantitative","scale":{"domain":[0,1.2],"nice":false},"axis":{"values":[0,0.2,0.4,0.6,0.8,1,1.2],"format":"~g"},"title":"Force (F/Fₘₐₓ)"},"color":{"field":"g","type":"nominal","scale":{"domain":["Y1","Y6","Y3","YP","O1","O6","O3","OP"],"range":["#000000","#555555","#a0a0a0","#000000","#4e4266","#8270a5","#c8b9f5","#4e4266"]},"legend":null}},"layer":[{"data":{"name":"c"},"transform":[{"filter":"datum.p=='YA07'"}],"mark":{"type":"line","clip":true,"interpolate":"monotone","strokeWidth":1.2}},{"data":{"name":"s"},"transform":[{"filter":"datum.p=='YA07'"}],"mark":{"type":"circle","size":17,"opacity":1}},{"data":{"name":"r"},"transform":[{"filter":"datum.p=='YA07'"}],"mark":{"type":"point","filled":false,"fill":"white","size":22,"strokeWidth":2.3,"opacity":1}}]},
{"title":"YA11","encoding":{"x":{"field":"x","type":"quantitative","scale":{"domain":[0,2],"nice":false},"axis":{"values":[0,0.5,1,1.5,2],"format":"~g"},"title":"Fascicle Length (L/L₀)"},"y":{"field":"y","type":"quantitative","scale":{"domain":[0,1.2],"nice":false},"axis":{"values":[0,0.2,0.4,0.6,0.8,1,1.2],"format":"~g"},"title":"Force (F/Fₘₐₓ)"},"color":{"field":"g","type":"nominal","scale":{"domain":["Y1","Y6","Y3","YP","O1","O6","O3","OP"],"range":["#000000","#555555","#a0a0a0","#000000","#4e4266","#8270a5","#c8b9f5","#4e4266"]},"legend":null}},"layer":[{"data":{"name":"c"},"transform":[{"filter":"datum.p=='YA11'"}],"mark":{"type":"line","clip":true,"interpolate":"monotone","strokeWidth":1.2}},{"data":{"name":"s"},"transform":[{"filter":"datum.p=='YA11'"}],"mark":{"type":"circle","size":17,"opacity":1}},{"data":{"name":"r"},"transform":[{"filter":"datum.p=='YA11'"}],"mark":{"type":"point","filled":false,"fill":"white","size":22,"strokeWidth":2.3,"opacity":1}}]},
{"title":"OA05","encoding":{"x":{"field":"x","type":"quantitative","scale":{"domain":[0,2],"nice":false},"axis":{"values":[0,0.5,1,1.5,2],"format":"~g"},"title":"Fascicle Length (L/L₀)"},"y":{"field":"y","type":"quantitative","scale":{"domain":[0,1.2],"nice":false},"axis":{"values":[0,0.2,0.4,0.6,0.8,1,1.2],"format":"~g"},"title":"Force (F/Fₘₐₓ)"},"color":{"field":"g","type":"nominal","scale":{"domain":["Y1","Y6","Y3","YP","O1","O6","O3","OP"],"range":["#000000","#555555","#a0a0a0","#000000","#4e4266","#8270a5","#c8b9f5","#4e4266"]},"legend":null}},"layer":[{"data":{"name":"c"},"transform":[{"filter":"datum.p=='OA05'"}],"mark":{"type":"line","clip":true,"interpolate":"monotone","strokeWidth":1.2}},{"data":{"name":"s"},"transform":[{"filter":"datum.p=='OA05'"}],"mark":{"type":"circle","size":17,"opacity":1}},{"data":{"name":"r"},"transform":[{"filter":"datum.p=='OA05'"}],"mark":{"type":"point","filled":false,"fill":"white","size":22,"strokeWidth":2.3,"opacity":1}}]},
{"title":"OA10","encoding":{"x":{"field":"x","type":"quantitative","scale":{"domain":[0,2],"nice":false},"axis":{"values":[0,0.5,1,1.5,2],"format":"~g"},"title":"Fascicle Length (L/L₀)"},"y":{"field":"y","type":"quantitative","scale":{"domain":[0,1.2],"nice":false},"axis":{"values":[0,0.2,0.4,0.6,0.8,1,1.2],"format":"~g"},"title":"Force (F/Fₘₐₓ)"},"color":{"field":"g","type":"nominal","scale":{"domain":["Y1","Y6","Y3","YP","O1","O6","O3","OP"],"range":["#000000","#555555","#a0a0a0","#000000","#4e4266","#8270a5","#c8b9f5","#4e4266"]},"legend":null}},"layer":[{"data":{"name":"c"},"transform":[{"filter":"datum.p=='OA10'"}],"mark":{"type":"line","clip":true,"interpolate":"monotone","strokeWidth":1.2}},{"data":{"name":"s"},"transform":[{"filter":"datum.p=='OA10'"}],"mark":{"type":"circle","size":17,"opacity":1}},{"data":{"name":"r"},"transform":[{"filter":"datum.p=='OA10'"}],"mark":{"type":"point","filled":false,"fill":"white","size":22,"strokeWidth":2.3,"opacity":1}}]}
],"spacing":44,"bounds":"flush"},
{"hconcat":[
{"title":"YA08","encoding":{"x":{"field":"x","type":"quantitative","scale":{"domain":[0,2],"nice":false},"axis":{"values":[0,0.5,1,1.5,2],"format":"~g"},"title":"Fascicle Length (L/L₀)"},"y":{"field":"y","type":"quantitative","scale":{"domain":[0,1.2],"nice":false},"axis":{"values":[0,0.2,0.4,0.6,0.8,1,1.2],"format":"~g"},"title":"Force (F/Fₘₐₓ)"},"color":{"field":"g","type":"nominal","scale":{"domain":["Y1","Y6","Y3","YP","O1","O6","O3","OP"],"range":["#000000","#555555","#a0a0a0","#000000","#4e4266","#8270a5","#c8b9f5","#4e4266"]},"legend":null}},"layer":[{"data":{"name":"c"},"transform":[{"filter":"datum.p=='YA08'"}],"mark":{"type":"line","clip":true,"interpolate":"monotone","strokeWidth":1.2}},{"data":{"name":"s"},"transform":[{"filter":"datum.p=='YA08'"}],"mark":{"type":"circle","size":17,"opacity":1}},{"data":{"name":"r"},"transform":[{"filter":"datum.p=='YA08'"}],"mark":{"type":"point","filled":false,"fill":"white","size":22,"strokeWidth":2.3,"opacity":1}}]},
{"title":"YA13","encoding":{"x":{"field":"x","type":"quantitative","scale":{"domain":[0,2],"nice":false},"axis":{"values":[0,0.5,1,1.5,2],"format":"~g"},"title":"Fascicle Length (L/L₀)"},"y":{"field":"y","type":"quantitative","scale":{"domain":[0,1.2],"nice":false},"axis":{"values":[0,0.2,0.4,0.6,0.8,1,1.2],"format":"~g"},"title":"Force (F/Fₘₐₓ)"},"color":{"field":"g","type":"nominal","scale":{"domain":["Y1","Y6","Y3","YP","O1","O6","O3","OP"],"range":["#000000","#555555","#a0a0a0","#000000","#4e4266","#8270a5","#c8b9f5","#4e4266"]},"legend":null}},"layer":[{"data":{"name":"c"},"transform":[{"filter":"datum.p=='YA13'"}],"mark":{"type":"line","clip":true,"interpolate":"monotone","strokeWidth":1.2}},{"data":{"name":"s"},"transform":[{"filter":"datum.p=='YA13'"}],"mark":{"type":"circle","size":17,"opacity":1}},{"data":{"name":"r"},"transform":[{"filter":"datum.p=='YA13'"}],"mark":{"type":"point","filled":false,"fill":"white","size":22,"strokeWidth":2.3,"opacity":1}}]},
{"hconcat":[
{"title":"YA14","encoding":{"x":{"field":"x","type":"quantitative","scale":{"domain":[0,2],"nice":false},"axis":{"values":[0,0.5,1,1.5,2],"format":"~g"},"title":"Fascicle Length (L/L₀)"},"y":{"field":"y","type":"quantitative","scale":{"domain":[0,1.2],"nice":false},"axis":{"values":[0,0.2,0.4,0.6,0.8,1,1.2],"format":"~g"},"title":"Force (F/Fₘₐₓ)"},"color":{"field":"g","type":"nominal","scale":{"domain":["Y1","Y6","Y3","YP","O1","O6","O3","OP"],"range":["#000000","#555555","#a0a0a0","#000000","#4e4266","#8270a5","#c8b9f5","#4e4266"]},"legend":null}},"layer":[{"data":{"name":"c"},"transform":[{"filter":"datum.p=='YA14'"}],"mark":{"type":"line","clip":true,"interpolate":"monotone","strokeWidth":1.2}},{"data":{"name":"s"},"transform":[{"filter":"datum.p=='YA14'"}],"mark":{"type":"circle","size":17,"opacity":1}},{"data":{"name":"r"},"transform":[{"filter":"datum.p=='YA14'"}],"mark":{"type":"point","filled":false,"fill":"white","size":22,"strokeWidth":2.3,"opacity":1}}]},
{"vconcat":[
{"width":121,"height":1,"view":{"stroke":null},"data":{"values":[]},"mark":"point","encoding":{}},
{"hconcat":[
{"width":121,"height":112,"view":{"stroke":"#333","strokeWidth":3},"data":{"name":"ly"},"encoding":{"y":{"field":"lab","type":"ordinal","sort":null,"scale":{"type":"point","padding":0.6},"axis":null},"color":{"field":"g","type":"nominal","scale":{"domain":["Y1","Y6","Y3","YP","O1","O6","O3","OP"],"range":["#000000","#555555","#a0a0a0","#000000","#4e4266","#8270a5","#c8b9f5","#4e4266"]},"legend":null}},"layer":[
{"transform":[{"filter":"datum.g!='YP'"}],"mark":{"type":"circle","size":55,"opacity":1},"encoding":{"x":{"datum":0.26,"type":"quantitative","scale":{"domain":[0,1]},"axis":null}}},
{"transform":[{"filter":"datum.g=='YP'"}],"mark":{"type":"point","filled":false,"fill":"white","size":70,"strokeWidth":3.5,"opacity":1},"encoding":{"x":{"datum":0.26,"type":"quantitative","scale":{"domain":[0,1]},"axis":null}}},
{"mark":{"type":"text","align":"left","font":"Liberation Sans","fontSize":20,"fontWeight":"bold","color":"#000"},"encoding":{"x":{"datum":0.5,"type":"quantitative","scale":{"domain":[0,1]},"axis":null},"text":{"field":"lab"},"color":{"value":"#000"}}}
]},
{"width":118,"height":112,"view":{"stroke":"#333","strokeWidth":3},"data":{"name":"lo"},"encoding":{"y":{"field":"lab","type":"ordinal","sort":null,"scale":{"type":"point","padding":0.6},"axis":null},"color":{"field":"g","type":"nominal","scale":{"domain":["Y1","Y6","Y3","YP","O1","O6","O3","OP"],"range":["#000000","#555555","#a0a0a0","#000000","#4e4266","#8270a5","#c8b9f5","#4e4266"]},"legend":null}},"layer":[
{"transform":[{"filter":"datum.g!='OP'"}],"mark":{"type":"circle","size":55,"opacity":1},"encoding":{"x":{"datum":0.26,"type":"quantitative","scale":{"domain":[0,1]},"axis":null}}},
{"transform":[{"filter":"datum.g=='OP'"}],"mark":{"type":"point","filled":false,"fill":"white","size":70,"strokeWidth":3.5,"opacity":1},"encoding":{"x":{"datum":0.26,"type":"quantitative","scale":{"domain":[0,1]},"axis":null}}},
{"mark":{"type":"text","align":"left","font":"Liberation Sans","fontSize":20,"fontWeight":"bold","color":"#000"},"encoding":{"x":{"datum":0.51,"type":"quantitative","scale":{"domain":[0,1]},"axis":null},"text":{"field":"lab"},"color":{"value":"#000"}}}
]}
],"spacing":14,"bounds":"flush"}
],"spacing":32,"bounds":"flush"}
],"spacing":38,"bounds":"flush"}
],"spacing":44,"bounds":"flush"}
],"spacing":6}
],
"spacing":-7,
"config":{
"view":{"stroke":"black","strokeWidth":1,"continuousWidth":236,"continuousHeight":172},
"font":"Liberation Sans",
"axis":{"grid":false,"domain":false,"ticks":true,"tickSize":-3,"tickColor":"#000","labelFont":"Liberation Sans","labelFontSize":9,"labelFontWeight":"bold","labelColor":"#222","titleFont":"Liberation Sans","titleFontSize":10,"titleColor":"#222","labelPadding":5},
"axisX":{"titleFontWeight":"normal","titleFontSize":11,"titlePadding":2},
"axisY":{"titleFontWeight":"bold","titlePadding":4},
"title":{"font":"Liberation Sans","fontSize":10,"fontWeight":"bold","offset":3,"anchor":"middle","color":"#222"}
}
}
